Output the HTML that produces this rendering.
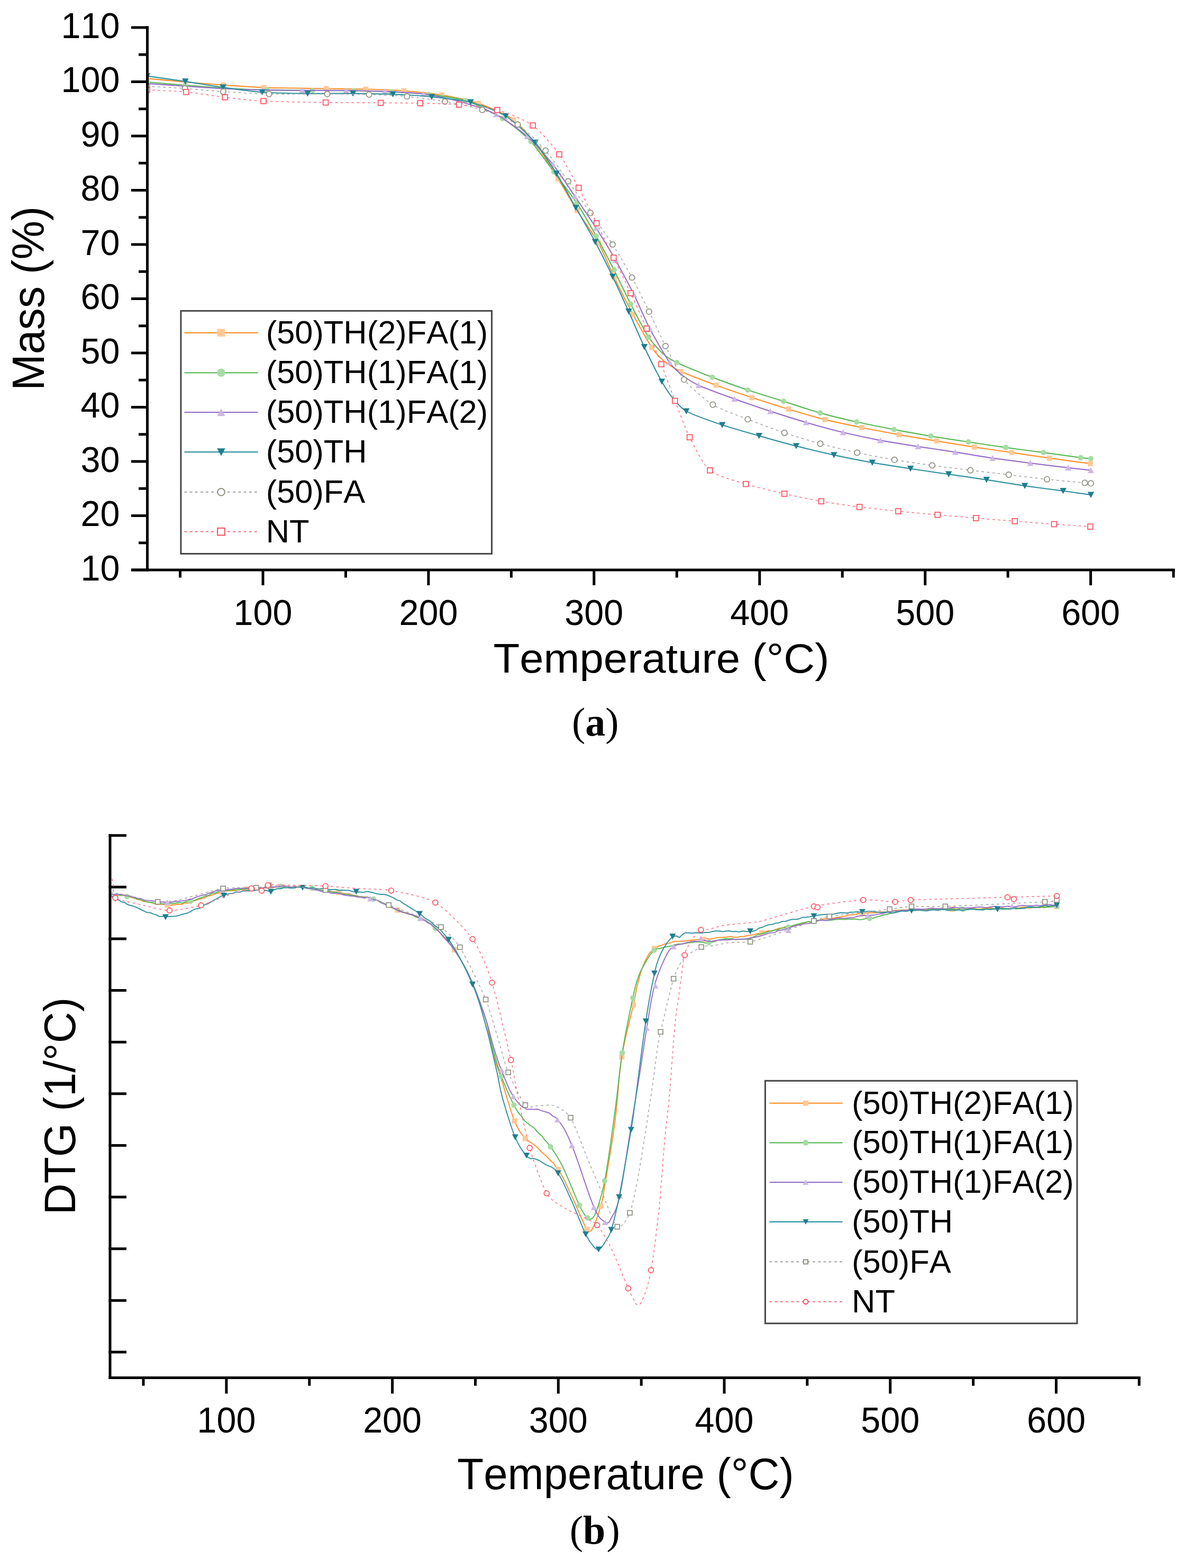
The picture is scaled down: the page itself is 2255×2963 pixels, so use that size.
<!DOCTYPE html>
<html><head><meta charset="utf-8"><title>TGA / DTG</title>
<style>html,body{margin:0;padding:0;background:#fff;}svg{display:block;}text{font-kerning:none;font-feature-settings:"kern" 0;}</style>
</head><body>
<svg width="2255" height="2963" viewBox="0 0 2255 2963">
<rect width="2255" height="2963" fill="#fff"/>
<g stroke="#000" stroke-width="5" fill="none" stroke-linecap="butt">
<path d="M278.5 49.5 V1079.5"/>
<path d="M248.0 1077.0 H2220.6"/>
<path d="M248 1077.0 H281"/>
<path d="M248 974.5 H281"/>
<path d="M248 872.0 H281"/>
<path d="M248 769.5 H281"/>
<path d="M248 667.0 H281"/>
<path d="M248 564.5 H281"/>
<path d="M248 462.0 H281"/>
<path d="M248 359.5 H281"/>
<path d="M248 257.0 H281"/>
<path d="M248 154.5 H281"/>
<path d="M248 52.0 H281"/>
<path d="M262 1025.8 H281"/>
<path d="M262 923.2 H281"/>
<path d="M262 820.8 H281"/>
<path d="M262 718.2 H281"/>
<path d="M262 615.8 H281"/>
<path d="M262 513.2 H281"/>
<path d="M262 410.8 H281"/>
<path d="M262 308.2 H281"/>
<path d="M262 205.8 H281"/>
<path d="M262 103.2 H281"/>
<path d="M497.0 1075 V1106"/>
<path d="M809.9 1075 V1106"/>
<path d="M1122.8 1075 V1106"/>
<path d="M1435.8 1075 V1106"/>
<path d="M1748.7 1075 V1106"/>
<path d="M2061.6 1075 V1106"/>
<path d="M340.5 1075 V1091.5"/>
<path d="M653.5 1075 V1091.5"/>
<path d="M966.4 1075 V1091.5"/>
<path d="M1279.3 1075 V1091.5"/>
<path d="M1592.2 1075 V1091.5"/>
<path d="M1905.1 1075 V1091.5"/>
<path d="M2218.1 1075 V1091.5"/>
</g>
<g font-family="'Liberation Sans', Arial, sans-serif" font-size="66.5" fill="#000">
<text transform="translate(226.4 1096.9) scale(1 1.035)" text-anchor="end">10</text>
<text transform="translate(226.4 994.4) scale(1 1.035)" text-anchor="end">20</text>
<text transform="translate(226.4 891.9) scale(1 1.035)" text-anchor="end">30</text>
<text transform="translate(226.4 789.4) scale(1 1.035)" text-anchor="end">40</text>
<text transform="translate(226.4 686.9) scale(1 1.035)" text-anchor="end">50</text>
<text transform="translate(226.4 584.4) scale(1 1.035)" text-anchor="end">60</text>
<text transform="translate(226.4 481.9) scale(1 1.035)" text-anchor="end">70</text>
<text transform="translate(226.4 379.4) scale(1 1.035)" text-anchor="end">80</text>
<text transform="translate(226.4 276.9) scale(1 1.035)" text-anchor="end">90</text>
<text transform="translate(226.4 174.4) scale(1 1.035)" text-anchor="end">100</text>
<text transform="translate(226.4 71.9) scale(1 1.035)" text-anchor="end">110</text>
<text transform="translate(497.0 1180.5) scale(1 1.035)" text-anchor="middle">100</text>
<text transform="translate(809.9 1180.5) scale(1 1.035)" text-anchor="middle">200</text>
<text transform="translate(1122.8 1180.5) scale(1 1.035)" text-anchor="middle">300</text>
<text transform="translate(1435.8 1180.5) scale(1 1.035)" text-anchor="middle">400</text>
<text transform="translate(1748.7 1180.5) scale(1 1.035)" text-anchor="middle">500</text>
<text transform="translate(2061.6 1180.5) scale(1 1.035)" text-anchor="middle">600</text>
</g>
<text transform="translate(932.5 1271) scale(1 0.965)" font-family="'Liberation Sans', Arial, sans-serif" font-size="81.5" fill="#000">Temperature (°C)</text>
<text transform="translate(82.5 738) rotate(-90) scale(1 1.025)" font-family="'Liberation Sans', Arial, sans-serif" font-size="82.5" fill="#000">Mass (%)</text>
<text x="1080.9" y="1390" font-family="'Liberation Serif', 'Times New Roman', serif" font-size="76" fill="#000">(<tspan font-weight="bold">a</tspan>)</text>
<svg x="0" y="0" width="2255" height="2963" overflow="hidden"><defs><clipPath id="ca"><rect x="281" y="0" width="1950" height="1074"/></clipPath></defs>
<g clip-path="url(#ca)">
<path d="M278.0 148.3 C287.0 149.1 332.0 153.4 350.0 155.0 C368.0 156.6 403.4 159.4 422.0 160.7 C440.6 162.0 481.8 164.8 498.7 165.5 C515.6 166.2 542.2 166.2 557.0 166.5 C571.8 166.8 600.0 167.2 616.8 167.5 C633.6 167.8 673.2 168.0 691.5 168.5 C709.8 169.0 745.3 170.1 763.3 171.5 C781.3 172.9 817.6 176.6 835.2 179.6 C852.8 182.6 887.3 189.6 904.2 195.4 C921.1 201.2 956.4 215.5 970.7 226.2 C985.0 236.9 1008.2 266.9 1018.8 280.9 C1029.3 294.9 1046.0 323.4 1055.0 338.0 C1064.0 352.6 1081.5 382.8 1091.0 398.0 C1100.5 413.2 1122.4 443.4 1131.2 459.3 C1140.1 475.2 1153.5 508.5 1161.6 525.4 C1169.7 542.2 1187.6 577.7 1196.4 594.1 C1205.2 610.5 1224.6 645.5 1232.1 656.6 C1239.5 667.7 1249.1 677.3 1256.0 683.0 C1262.9 688.7 1275.3 696.5 1287.5 702.1 C1299.7 707.7 1336.9 721.9 1353.6 728.0 C1370.3 734.1 1404.3 745.6 1421.4 751.2 C1438.5 756.9 1473.4 768.0 1490.7 773.2 C1508.0 778.4 1542.2 788.5 1559.5 792.9 C1576.8 797.2 1611.6 804.4 1629.1 808.0 C1646.6 811.6 1682.0 818.2 1699.6 821.4 C1717.2 824.6 1752.4 830.4 1770.2 833.3 C1788.0 836.2 1824.1 842.1 1841.9 844.8 C1859.7 847.5 1894.7 852.6 1912.4 855.2 C1930.1 857.8 1965.2 863.1 1983.8 865.7 C2002.4 868.3 2051.3 874.9 2061.0 876.2" fill="none" stroke="#FF922E" stroke-width="2.2" stroke-linejoin="round"/>
<rect x="273.1" y="143.4" width="9.8" height="9.8" fill="#FFC998"/>
<rect x="417.1" y="155.8" width="9.8" height="9.8" fill="#FFC998"/>
<rect x="493.8" y="160.6" width="9.8" height="9.8" fill="#FFC998"/>
<rect x="611.9" y="162.6" width="9.8" height="9.8" fill="#FFC998"/>
<rect x="686.6" y="163.6" width="9.8" height="9.8" fill="#FFC998"/>
<rect x="758.4" y="166.6" width="9.8" height="9.8" fill="#FFC998"/>
<rect x="830.3" y="174.7" width="9.8" height="9.8" fill="#FFC998"/>
<rect x="899.3" y="190.5" width="9.8" height="9.8" fill="#FFC998"/>
<rect x="965.8" y="221.3" width="9.8" height="9.8" fill="#FFC998"/>
<rect x="1013.9" y="276.0" width="9.8" height="9.8" fill="#FFC998"/>
<rect x="1050.1" y="333.1" width="9.8" height="9.8" fill="#FFC998"/>
<rect x="1086.1" y="393.1" width="9.8" height="9.8" fill="#FFC998"/>
<rect x="1126.3" y="454.4" width="9.8" height="9.8" fill="#FFC998"/>
<rect x="1156.7" y="520.5" width="9.8" height="9.8" fill="#FFC998"/>
<rect x="1191.5" y="589.2" width="9.8" height="9.8" fill="#FFC998"/>
<rect x="1227.2" y="651.7" width="9.8" height="9.8" fill="#FFC998"/>
<rect x="1282.6" y="697.2" width="9.8" height="9.8" fill="#FFC998"/>
<rect x="1348.7" y="723.1" width="9.8" height="9.8" fill="#FFC998"/>
<rect x="1416.5" y="746.4" width="9.8" height="9.8" fill="#FFC998"/>
<rect x="1485.8" y="768.3" width="9.8" height="9.8" fill="#FFC998"/>
<rect x="1554.6" y="788.0" width="9.8" height="9.8" fill="#FFC998"/>
<rect x="1624.2" y="803.1" width="9.8" height="9.8" fill="#FFC998"/>
<rect x="1694.7" y="816.5" width="9.8" height="9.8" fill="#FFC998"/>
<rect x="1765.3" y="828.4" width="9.8" height="9.8" fill="#FFC998"/>
<rect x="1837.0" y="839.9" width="9.8" height="9.8" fill="#FFC998"/>
<rect x="1907.5" y="850.3" width="9.8" height="9.8" fill="#FFC998"/>
<rect x="1978.9" y="860.8" width="9.8" height="9.8" fill="#FFC998"/>
<rect x="2056.1" y="871.3" width="9.8" height="9.8" fill="#FFC998"/>
<path d="M278.0 155.0 C287.0 155.8 332.0 159.6 350.0 161.0 C368.0 162.4 402.6 165.4 422.0 166.5 C441.4 167.6 483.9 169.4 505.0 170.0 C526.1 170.6 570.0 170.8 590.5 171.0 C611.0 171.2 650.0 171.2 668.6 171.5 C687.2 171.8 721.3 172.6 739.0 173.5 C756.7 174.4 792.4 176.4 810.0 178.5 C827.6 180.6 862.5 184.3 880.0 190.0 C897.5 195.7 934.5 214.1 950.0 223.8 C965.5 233.4 991.5 254.8 1003.6 267.5 C1015.7 280.2 1036.2 310.5 1047.0 325.0 C1057.8 339.5 1080.2 368.5 1090.2 383.6 C1100.2 398.7 1118.0 430.2 1126.8 446.0 C1135.6 461.8 1152.5 494.1 1160.7 510.2 C1168.9 526.3 1183.8 558.6 1192.0 574.5 C1200.2 590.4 1218.0 625.1 1225.9 637.0 C1233.8 648.9 1248.3 664.0 1255.0 670.0 C1261.7 676.0 1268.1 679.8 1279.5 685.2 C1290.9 690.6 1329.7 706.4 1346.4 712.9 C1363.1 719.4 1396.5 731.3 1413.4 737.0 C1430.3 742.7 1464.1 753.0 1481.2 758.4 C1498.4 763.8 1533.2 775.5 1550.5 780.4 C1567.8 785.3 1601.9 793.4 1619.3 797.3 C1636.7 801.2 1672.3 808.2 1689.8 811.6 C1707.3 815.0 1741.9 821.1 1759.5 824.1 C1777.1 827.1 1812.8 832.5 1830.5 835.2 C1848.2 837.9 1883.3 843.2 1901.0 845.7 C1918.7 848.2 1954.7 852.8 1972.4 855.2 C1990.1 857.6 2031.7 863.4 2042.9 864.8 C2054.1 866.2 2059.5 866.5 2061.9 866.7" fill="none" stroke="#5BBA58" stroke-width="2.2" stroke-linejoin="round"/>
<circle cx="278.0" cy="155.0" r="5.1" fill="#A6DCA3"/>
<circle cx="350.0" cy="161.0" r="5.1" fill="#A6DCA3"/>
<circle cx="422.0" cy="166.5" r="5.1" fill="#A6DCA3"/>
<circle cx="505.0" cy="170.0" r="5.1" fill="#A6DCA3"/>
<circle cx="590.5" cy="171.0" r="5.1" fill="#A6DCA3"/>
<circle cx="668.6" cy="171.5" r="5.1" fill="#A6DCA3"/>
<circle cx="739.0" cy="173.5" r="5.1" fill="#A6DCA3"/>
<circle cx="810.0" cy="178.5" r="5.1" fill="#A6DCA3"/>
<circle cx="880.0" cy="190.0" r="5.1" fill="#A6DCA3"/>
<circle cx="950.0" cy="223.8" r="5.1" fill="#A6DCA3"/>
<circle cx="1003.6" cy="267.5" r="5.1" fill="#A6DCA3"/>
<circle cx="1047.0" cy="325.0" r="5.1" fill="#A6DCA3"/>
<circle cx="1090.2" cy="383.6" r="5.1" fill="#A6DCA3"/>
<circle cx="1126.8" cy="446.0" r="5.1" fill="#A6DCA3"/>
<circle cx="1160.7" cy="510.2" r="5.1" fill="#A6DCA3"/>
<circle cx="1192.0" cy="574.5" r="5.1" fill="#A6DCA3"/>
<circle cx="1225.9" cy="637.0" r="5.1" fill="#A6DCA3"/>
<circle cx="1279.5" cy="685.2" r="5.1" fill="#A6DCA3"/>
<circle cx="1346.4" cy="712.9" r="5.1" fill="#A6DCA3"/>
<circle cx="1413.4" cy="737.0" r="5.1" fill="#A6DCA3"/>
<circle cx="1481.2" cy="758.4" r="5.1" fill="#A6DCA3"/>
<circle cx="1550.5" cy="780.4" r="5.1" fill="#A6DCA3"/>
<circle cx="1619.3" cy="797.3" r="5.1" fill="#A6DCA3"/>
<circle cx="1689.8" cy="811.6" r="5.1" fill="#A6DCA3"/>
<circle cx="1759.5" cy="824.1" r="5.1" fill="#A6DCA3"/>
<circle cx="1830.5" cy="835.2" r="5.1" fill="#A6DCA3"/>
<circle cx="1901.0" cy="845.7" r="5.1" fill="#A6DCA3"/>
<circle cx="1972.4" cy="855.2" r="5.1" fill="#A6DCA3"/>
<circle cx="2042.9" cy="864.8" r="5.1" fill="#A6DCA3"/>
<circle cx="2061.9" cy="866.7" r="5.1" fill="#A6DCA3"/>
<path d="M278.0 158.0 C287.0 158.6 332.0 161.8 350.0 163.0 C368.0 164.2 403.6 166.6 422.0 167.5 C440.4 168.4 478.3 169.6 497.0 170.0 C515.7 170.4 551.7 170.7 571.4 170.8 C591.1 170.9 634.8 170.8 654.3 171.0 C673.8 171.2 709.4 172.0 727.6 172.8 C745.8 173.6 782.4 175.1 800.2 177.5 C818.0 179.9 852.8 187.2 870.0 192.0 C887.2 196.8 921.9 208.0 937.7 216.2 C953.5 224.4 982.9 245.8 996.4 257.7 C1009.9 269.6 1034.2 297.1 1045.5 311.2 C1056.8 325.4 1076.4 356.0 1086.6 371.0 C1096.8 386.0 1117.2 415.8 1126.8 430.9 C1136.4 445.9 1154.5 475.7 1163.4 491.4 C1172.3 507.1 1190.1 540.3 1198.2 556.6 C1206.3 572.9 1220.2 605.8 1228.6 621.8 C1237.0 637.8 1257.9 673.6 1265.2 684.3 C1272.5 694.9 1280.1 701.5 1287.0 707.0 C1293.9 712.5 1307.8 722.1 1320.5 728.0 C1333.2 733.9 1371.4 747.8 1388.4 753.9 C1405.4 760.0 1439.3 771.6 1456.2 777.1 C1473.2 782.6 1506.6 793.2 1523.8 798.2 C1540.9 803.2 1575.9 812.8 1593.4 817.0 C1610.9 821.2 1646.2 828.8 1663.9 832.1 C1681.7 835.4 1717.7 841.0 1735.4 843.8 C1753.1 846.5 1788.1 851.6 1805.7 854.3 C1823.3 857.0 1858.5 863.1 1876.2 865.7 C1893.9 868.3 1929.8 872.9 1947.6 875.2 C1965.4 877.5 2004.7 882.1 2019.0 883.8 C2033.3 885.5 2056.5 888.0 2061.9 888.6" fill="none" stroke="#9A70C8" stroke-width="2.2" stroke-linejoin="round"/>
<path d="M278.0 152.3L284.0 163.4L272.0 163.4Z" fill="#CDB8E6"/>
<path d="M350.0 157.3L356.0 168.4L344.0 168.4Z" fill="#CDB8E6"/>
<path d="M422.0 161.8L428.0 172.9L416.0 172.9Z" fill="#CDB8E6"/>
<path d="M497.0 164.3L503.0 175.4L491.0 175.4Z" fill="#CDB8E6"/>
<path d="M571.4 165.1L577.4 176.2L565.4 176.2Z" fill="#CDB8E6"/>
<path d="M654.3 165.3L660.3 176.4L648.3 176.4Z" fill="#CDB8E6"/>
<path d="M727.6 167.1L733.6 178.2L721.6 178.2Z" fill="#CDB8E6"/>
<path d="M800.2 171.8L806.2 182.9L794.2 182.9Z" fill="#CDB8E6"/>
<path d="M870.0 186.3L876.0 197.4L864.0 197.4Z" fill="#CDB8E6"/>
<path d="M937.7 210.5L943.7 221.6L931.7 221.6Z" fill="#CDB8E6"/>
<path d="M996.4 252.0L1002.4 263.1L990.4 263.1Z" fill="#CDB8E6"/>
<path d="M1045.5 305.6L1051.5 316.6L1039.5 316.6Z" fill="#CDB8E6"/>
<path d="M1086.6 365.3L1092.6 376.4L1080.6 376.4Z" fill="#CDB8E6"/>
<path d="M1126.8 425.2L1132.8 436.3L1120.8 436.3Z" fill="#CDB8E6"/>
<path d="M1163.4 485.7L1169.4 496.8L1157.4 496.8Z" fill="#CDB8E6"/>
<path d="M1198.2 550.9L1204.2 562.0L1192.2 562.0Z" fill="#CDB8E6"/>
<path d="M1228.6 616.1L1234.6 627.2L1222.6 627.2Z" fill="#CDB8E6"/>
<path d="M1265.2 678.6L1271.2 689.7L1259.2 689.7Z" fill="#CDB8E6"/>
<path d="M1320.5 722.3L1326.5 733.4L1314.5 733.4Z" fill="#CDB8E6"/>
<path d="M1388.4 748.2L1394.4 759.3L1382.4 759.3Z" fill="#CDB8E6"/>
<path d="M1456.2 771.4L1462.2 782.5L1450.2 782.5Z" fill="#CDB8E6"/>
<path d="M1523.8 792.5L1529.8 803.6L1517.8 803.6Z" fill="#CDB8E6"/>
<path d="M1593.4 811.3L1599.4 822.4L1587.4 822.4Z" fill="#CDB8E6"/>
<path d="M1663.9 826.4L1669.9 837.5L1657.9 837.5Z" fill="#CDB8E6"/>
<path d="M1735.4 838.0L1741.4 849.1L1729.4 849.1Z" fill="#CDB8E6"/>
<path d="M1805.7 848.6L1811.7 859.7L1799.7 859.7Z" fill="#CDB8E6"/>
<path d="M1876.2 860.0L1882.2 871.1L1870.2 871.1Z" fill="#CDB8E6"/>
<path d="M1947.6 869.5L1953.6 880.6L1941.6 880.6Z" fill="#CDB8E6"/>
<path d="M2019.0 878.1L2025.0 889.2L2013.0 889.2Z" fill="#CDB8E6"/>
<path d="M2061.9 882.9L2067.9 894.0L2055.9 894.0Z" fill="#CDB8E6"/>
<path d="M278.0 143.8 C287.0 145.1 332.4 151.2 350.3 153.9 C368.2 156.6 403.3 162.6 421.5 165.2 C439.7 167.8 475.7 172.9 495.7 174.3 C515.7 175.8 560.1 176.5 581.5 176.8 C602.9 177.1 647.0 176.4 667.1 176.6 C687.2 176.8 724.1 177.3 742.7 178.1 C761.3 178.9 797.6 181.1 816.0 183.0 C834.4 184.9 872.0 188.6 889.5 193.2 C907.0 197.8 940.7 209.9 956.0 219.4 C971.3 228.9 999.6 255.7 1011.6 269.3 C1023.6 282.9 1042.2 312.8 1051.8 328.2 C1061.4 343.6 1079.2 376.4 1088.4 392.5 C1097.6 408.6 1116.3 440.7 1125.0 457.0 C1133.7 473.3 1150.1 506.2 1158.0 522.7 C1165.9 539.2 1180.9 572.1 1188.4 588.8 C1195.9 605.4 1210.1 639.2 1217.9 655.7 C1225.7 672.2 1244.2 709.0 1250.9 721.0 C1257.6 733.0 1265.7 745.0 1271.5 752.0 C1277.3 759.0 1285.6 770.7 1297.3 777.1 C1309.0 783.5 1348.0 797.2 1365.2 803.0 C1382.4 808.8 1417.3 818.6 1434.8 823.6 C1452.3 828.6 1487.3 838.4 1505.0 842.9 C1522.7 847.4 1558.4 855.9 1576.4 859.8 C1594.4 863.7 1630.7 870.9 1648.8 874.1 C1666.8 877.3 1702.9 882.9 1721.0 885.7 C1739.1 888.5 1775.3 893.6 1793.3 896.2 C1811.3 898.8 1846.8 904.0 1864.8 906.7 C1882.8 909.4 1919.0 915.5 1937.1 918.1 C1955.2 920.7 1993.9 925.5 2009.5 927.6 C2025.1 929.7 2055.3 934.2 2061.9 935.2" fill="none" stroke="#3593A2" stroke-width="2.2" stroke-linejoin="round"/>
<path d="M271.8 138.2L284.2 138.2L278.0 149.7Z" fill="#1F7E8F"/>
<path d="M344.1 148.3L356.6 148.3L350.3 159.8Z" fill="#1F7E8F"/>
<path d="M415.2 159.6L427.8 159.6L421.5 171.1Z" fill="#1F7E8F"/>
<path d="M489.4 168.7L501.9 168.7L495.7 180.2Z" fill="#1F7E8F"/>
<path d="M575.2 171.2L587.8 171.2L581.5 182.7Z" fill="#1F7E8F"/>
<path d="M660.9 171.0L673.4 171.0L667.1 182.5Z" fill="#1F7E8F"/>
<path d="M736.5 172.5L749.0 172.5L742.7 184.0Z" fill="#1F7E8F"/>
<path d="M809.8 177.4L822.2 177.4L816.0 188.9Z" fill="#1F7E8F"/>
<path d="M883.2 187.6L895.8 187.6L889.5 199.1Z" fill="#1F7E8F"/>
<path d="M949.8 213.8L962.2 213.8L956.0 225.3Z" fill="#1F7E8F"/>
<path d="M1005.4 263.7L1017.9 263.7L1011.6 275.2Z" fill="#1F7E8F"/>
<path d="M1045.5 322.6L1058.0 322.6L1051.8 334.1Z" fill="#1F7E8F"/>
<path d="M1082.2 386.9L1094.7 386.9L1088.4 398.4Z" fill="#1F7E8F"/>
<path d="M1118.8 451.4L1131.2 451.4L1125.0 462.9Z" fill="#1F7E8F"/>
<path d="M1151.8 517.1L1164.2 517.1L1158.0 528.6Z" fill="#1F7E8F"/>
<path d="M1182.2 583.1L1194.7 583.1L1188.4 594.7Z" fill="#1F7E8F"/>
<path d="M1211.7 650.1L1224.2 650.1L1217.9 661.6Z" fill="#1F7E8F"/>
<path d="M1244.7 715.4L1257.2 715.4L1250.9 726.9Z" fill="#1F7E8F"/>
<path d="M1291.0 771.5L1303.5 771.5L1297.3 783.0Z" fill="#1F7E8F"/>
<path d="M1359.0 797.4L1371.5 797.4L1365.2 808.9Z" fill="#1F7E8F"/>
<path d="M1428.5 818.0L1441.0 818.0L1434.8 829.5Z" fill="#1F7E8F"/>
<path d="M1498.8 837.3L1511.2 837.3L1505.0 848.8Z" fill="#1F7E8F"/>
<path d="M1570.2 854.2L1582.7 854.2L1576.4 865.7Z" fill="#1F7E8F"/>
<path d="M1642.5 868.5L1655.0 868.5L1648.8 880.0Z" fill="#1F7E8F"/>
<path d="M1714.8 880.1L1727.2 880.1L1721.0 891.6Z" fill="#1F7E8F"/>
<path d="M1787.0 890.6L1799.5 890.6L1793.3 902.1Z" fill="#1F7E8F"/>
<path d="M1858.5 901.1L1871.0 901.1L1864.8 912.6Z" fill="#1F7E8F"/>
<path d="M1930.8 912.5L1943.3 912.5L1937.1 924.0Z" fill="#1F7E8F"/>
<path d="M2003.2 922.0L2015.8 922.0L2009.5 933.5Z" fill="#1F7E8F"/>
<path d="M2055.7 929.6L2068.2 929.6L2061.9 941.1Z" fill="#1F7E8F"/>
<path d="M278.0 163.0 C286.9 163.5 331.6 165.7 349.6 167.0 C367.6 168.3 402.1 171.9 422.0 173.2 C441.9 174.5 484.0 177.0 508.6 177.6 C533.2 178.2 595.0 177.5 618.6 177.6 C642.2 177.7 678.9 178.1 697.7 178.7 C716.5 179.3 751.4 180.6 769.3 182.3 C787.2 184.0 823.1 188.8 840.9 192.0 C858.7 195.2 894.4 202.3 911.6 207.7 C928.8 213.1 963.6 225.8 978.6 235.4 C993.6 245.0 1019.3 271.1 1031.2 284.5 C1043.2 297.9 1063.5 327.8 1074.1 342.5 C1084.7 357.2 1105.5 387.4 1116.0 402.3 C1126.5 417.2 1148.2 446.7 1158.0 462.0 C1167.8 477.3 1186.0 508.7 1194.6 524.5 C1203.2 540.3 1218.9 572.6 1226.8 588.8 C1234.7 604.9 1249.7 637.8 1258.0 653.9 C1266.3 670.0 1281.7 703.5 1292.9 717.3 C1304.1 731.1 1332.2 755.2 1347.3 764.6 C1362.4 774.0 1396.5 785.6 1413.4 792.3 C1430.3 799.0 1465.6 812.1 1482.7 817.9 C1499.8 823.7 1533.3 833.7 1550.5 838.4 C1567.7 843.1 1602.7 851.6 1620.2 855.4 C1637.7 859.2 1673.0 865.7 1690.7 868.8 C1708.4 871.8 1744.1 877.0 1762.1 879.5 C1780.0 882.0 1816.2 886.4 1834.3 888.6 C1852.4 890.8 1888.6 895.0 1906.7 897.1 C1924.8 899.2 1961.0 903.8 1979.0 905.7 C1997.0 907.6 2040.1 911.5 2050.5 912.4 C2060.9 913.3 2060.5 913.2 2061.9 913.3" fill="none" stroke="#A6A6A6" stroke-width="1.6" stroke-dasharray="4.6 5.6" stroke-linejoin="round"/>
<circle cx="278.0" cy="163.0" r="5.2" fill="#fff" stroke="#8C9180" stroke-width="1.7"/>
<circle cx="349.6" cy="167.0" r="5.2" fill="#fff" stroke="#8C9180" stroke-width="1.7"/>
<circle cx="422.0" cy="173.2" r="5.2" fill="#fff" stroke="#8C9180" stroke-width="1.7"/>
<circle cx="508.6" cy="177.6" r="5.2" fill="#fff" stroke="#8C9180" stroke-width="1.7"/>
<circle cx="618.6" cy="177.6" r="5.2" fill="#fff" stroke="#8C9180" stroke-width="1.7"/>
<circle cx="697.7" cy="178.7" r="5.2" fill="#fff" stroke="#8C9180" stroke-width="1.7"/>
<circle cx="769.3" cy="182.3" r="5.2" fill="#fff" stroke="#8C9180" stroke-width="1.7"/>
<circle cx="840.9" cy="192.0" r="5.2" fill="#fff" stroke="#8C9180" stroke-width="1.7"/>
<circle cx="911.6" cy="207.7" r="5.2" fill="#fff" stroke="#8C9180" stroke-width="1.7"/>
<circle cx="978.6" cy="235.4" r="5.2" fill="#fff" stroke="#8C9180" stroke-width="1.7"/>
<circle cx="1031.2" cy="284.5" r="5.2" fill="#fff" stroke="#8C9180" stroke-width="1.7"/>
<circle cx="1074.1" cy="342.5" r="5.2" fill="#fff" stroke="#8C9180" stroke-width="1.7"/>
<circle cx="1116.0" cy="402.3" r="5.2" fill="#fff" stroke="#8C9180" stroke-width="1.7"/>
<circle cx="1158.0" cy="462.0" r="5.2" fill="#fff" stroke="#8C9180" stroke-width="1.7"/>
<circle cx="1194.6" cy="524.5" r="5.2" fill="#fff" stroke="#8C9180" stroke-width="1.7"/>
<circle cx="1226.8" cy="588.8" r="5.2" fill="#fff" stroke="#8C9180" stroke-width="1.7"/>
<circle cx="1258.0" cy="653.9" r="5.2" fill="#fff" stroke="#8C9180" stroke-width="1.7"/>
<circle cx="1292.9" cy="717.3" r="5.2" fill="#fff" stroke="#8C9180" stroke-width="1.7"/>
<circle cx="1347.3" cy="764.6" r="5.2" fill="#fff" stroke="#8C9180" stroke-width="1.7"/>
<circle cx="1413.4" cy="792.3" r="5.2" fill="#fff" stroke="#8C9180" stroke-width="1.7"/>
<circle cx="1482.7" cy="817.9" r="5.2" fill="#fff" stroke="#8C9180" stroke-width="1.7"/>
<circle cx="1550.5" cy="838.4" r="5.2" fill="#fff" stroke="#8C9180" stroke-width="1.7"/>
<circle cx="1620.2" cy="855.4" r="5.2" fill="#fff" stroke="#8C9180" stroke-width="1.7"/>
<circle cx="1690.7" cy="868.8" r="5.2" fill="#fff" stroke="#8C9180" stroke-width="1.7"/>
<circle cx="1762.1" cy="879.5" r="5.2" fill="#fff" stroke="#8C9180" stroke-width="1.7"/>
<circle cx="1834.3" cy="888.6" r="5.2" fill="#fff" stroke="#8C9180" stroke-width="1.7"/>
<circle cx="1906.7" cy="897.1" r="5.2" fill="#fff" stroke="#8C9180" stroke-width="1.7"/>
<circle cx="1979.0" cy="905.7" r="5.2" fill="#fff" stroke="#8C9180" stroke-width="1.7"/>
<circle cx="2050.5" cy="912.4" r="5.2" fill="#fff" stroke="#8C9180" stroke-width="1.7"/>
<circle cx="2061.9" cy="913.3" r="5.2" fill="#fff" stroke="#8C9180" stroke-width="1.7"/>
<path d="M278.0 169.8 C287.2 170.3 333.5 172.1 351.9 173.8 C370.3 175.6 406.7 181.7 425.0 183.8 C443.3 186.0 474.3 189.8 498.1 191.0 C521.9 192.2 587.9 193.3 615.6 193.7 C643.3 194.1 697.3 194.1 719.6 194.3 C741.9 194.5 775.8 194.6 794.3 195.0 C812.8 195.4 849.4 196.1 867.6 197.7 C885.8 199.3 922.4 202.9 939.8 207.8 C957.2 212.7 992.4 226.6 1007.1 237.1 C1021.8 247.6 1046.3 276.9 1057.1 291.6 C1067.9 306.3 1084.9 338.7 1093.8 355.0 C1102.6 371.3 1119.4 405.3 1127.7 421.8 C1136.0 438.3 1151.8 470.5 1159.8 487.0 C1167.8 503.5 1184.2 537.2 1192.0 553.9 C1199.8 570.6 1215.0 604.1 1222.3 620.9 C1229.5 637.7 1243.3 671.2 1250.0 688.3 C1256.7 705.4 1269.2 740.3 1275.9 757.5 C1282.6 774.7 1295.3 809.8 1303.6 826.2 C1311.9 842.7 1328.7 877.7 1342.0 888.8 C1355.3 899.8 1392.2 909.1 1409.8 914.6 C1427.4 920.1 1464.9 928.9 1482.7 933.0 C1500.5 937.1 1534.6 944.2 1552.3 947.3 C1570.0 950.4 1606.4 955.7 1624.6 958.0 C1642.8 960.3 1679.5 964.1 1697.9 966.0 C1716.4 967.9 1753.8 971.2 1772.2 972.8 C1790.6 974.4 1826.6 977.5 1844.8 979.0 C1863.0 980.5 1899.6 983.4 1918.1 984.8 C1936.5 986.2 1974.5 989.2 1992.4 990.5 C2010.3 991.8 2052.4 994.6 2061.0 995.2" fill="none" stroke="#FF7483" stroke-width="1.6" stroke-dasharray="4.6 5.6" stroke-linejoin="round"/>
<rect x="273.1" y="164.9" width="9.8" height="9.8" fill="#fff" stroke="#FF4E5C" stroke-width="1.7"/>
<rect x="347.0" y="168.9" width="9.8" height="9.8" fill="#fff" stroke="#FF4E5C" stroke-width="1.7"/>
<rect x="420.1" y="178.9" width="9.8" height="9.8" fill="#fff" stroke="#FF4E5C" stroke-width="1.7"/>
<rect x="493.2" y="186.1" width="9.8" height="9.8" fill="#fff" stroke="#FF4E5C" stroke-width="1.7"/>
<rect x="610.7" y="188.8" width="9.8" height="9.8" fill="#fff" stroke="#FF4E5C" stroke-width="1.7"/>
<rect x="714.7" y="189.4" width="9.8" height="9.8" fill="#fff" stroke="#FF4E5C" stroke-width="1.7"/>
<rect x="789.4" y="190.1" width="9.8" height="9.8" fill="#fff" stroke="#FF4E5C" stroke-width="1.7"/>
<rect x="862.7" y="192.8" width="9.8" height="9.8" fill="#fff" stroke="#FF4E5C" stroke-width="1.7"/>
<rect x="934.9" y="202.9" width="9.8" height="9.8" fill="#fff" stroke="#FF4E5C" stroke-width="1.7"/>
<rect x="1002.2" y="232.2" width="9.8" height="9.8" fill="#fff" stroke="#FF4E5C" stroke-width="1.7"/>
<rect x="1052.2" y="286.7" width="9.8" height="9.8" fill="#fff" stroke="#FF4E5C" stroke-width="1.7"/>
<rect x="1088.8" y="350.1" width="9.8" height="9.8" fill="#fff" stroke="#FF4E5C" stroke-width="1.7"/>
<rect x="1122.8" y="416.9" width="9.8" height="9.8" fill="#fff" stroke="#FF4E5C" stroke-width="1.7"/>
<rect x="1154.9" y="482.1" width="9.8" height="9.8" fill="#fff" stroke="#FF4E5C" stroke-width="1.7"/>
<rect x="1187.1" y="549.0" width="9.8" height="9.8" fill="#fff" stroke="#FF4E5C" stroke-width="1.7"/>
<rect x="1217.4" y="616.0" width="9.8" height="9.8" fill="#fff" stroke="#FF4E5C" stroke-width="1.7"/>
<rect x="1245.1" y="683.4" width="9.8" height="9.8" fill="#fff" stroke="#FF4E5C" stroke-width="1.7"/>
<rect x="1271.0" y="752.6" width="9.8" height="9.8" fill="#fff" stroke="#FF4E5C" stroke-width="1.7"/>
<rect x="1298.7" y="821.4" width="9.8" height="9.8" fill="#fff" stroke="#FF4E5C" stroke-width="1.7"/>
<rect x="1337.1" y="883.9" width="9.8" height="9.8" fill="#fff" stroke="#FF4E5C" stroke-width="1.7"/>
<rect x="1404.9" y="909.7" width="9.8" height="9.8" fill="#fff" stroke="#FF4E5C" stroke-width="1.7"/>
<rect x="1477.8" y="928.1" width="9.8" height="9.8" fill="#fff" stroke="#FF4E5C" stroke-width="1.7"/>
<rect x="1547.4" y="942.4" width="9.8" height="9.8" fill="#fff" stroke="#FF4E5C" stroke-width="1.7"/>
<rect x="1619.7" y="953.1" width="9.8" height="9.8" fill="#fff" stroke="#FF4E5C" stroke-width="1.7"/>
<rect x="1693.0" y="961.1" width="9.8" height="9.8" fill="#fff" stroke="#FF4E5C" stroke-width="1.7"/>
<rect x="1767.3" y="967.9" width="9.8" height="9.8" fill="#fff" stroke="#FF4E5C" stroke-width="1.7"/>
<rect x="1839.9" y="974.1" width="9.8" height="9.8" fill="#fff" stroke="#FF4E5C" stroke-width="1.7"/>
<rect x="1913.2" y="979.9" width="9.8" height="9.8" fill="#fff" stroke="#FF4E5C" stroke-width="1.7"/>
<rect x="1987.5" y="985.6" width="9.8" height="9.8" fill="#fff" stroke="#FF4E5C" stroke-width="1.7"/>
<rect x="2056.1" y="990.3" width="9.8" height="9.8" fill="#fff" stroke="#FF4E5C" stroke-width="1.7"/>
</g></svg>
<rect x="341.9" y="587.4" width="587.6" height="459.0" fill="#fff" stroke="#474747" stroke-width="3"/>
<path d="M348.5 628.8 H487.5" stroke="#FF922E" stroke-width="2.2"/>
<rect x="410.8" y="621.5" width="14.5" height="14.5" fill="#FFC998"/>
<text x="502.7" y="648.9" font-family="'Liberation Sans', Arial, sans-serif" font-size="61.4" fill="#000">(50)TH(2)FA(1)</text>
<path d="M348.5 704.3 H487.5" stroke="#5BBA58" stroke-width="2.2"/>
<circle cx="418.0" cy="704.3" r="7.8" fill="#A6DCA3"/>
<text x="502.7" y="724.4" font-family="'Liberation Sans', Arial, sans-serif" font-size="61.4" fill="#000">(50)TH(1)FA(1)</text>
<path d="M348.5 779.2 H487.5" stroke="#9A70C8" stroke-width="2.2"/>
<path d="M418.0 771.8L425.8 786.2L410.2 786.2Z" fill="#CDB8E6"/>
<text x="502.7" y="799.3" font-family="'Liberation Sans', Arial, sans-serif" font-size="61.4" fill="#000">(50)TH(1)FA(2)</text>
<path d="M348.5 854.2 H487.5" stroke="#3593A2" stroke-width="2.2"/>
<path d="M410.2 847.2L425.8 847.2L418.0 861.6Z" fill="#1F7E8F"/>
<text x="502.7" y="874.3" font-family="'Liberation Sans', Arial, sans-serif" font-size="61.4" fill="#000">(50)TH</text>
<path d="M348.5 929.8 H487.5" stroke="#A6A6A6" stroke-width="2.2" stroke-dasharray="4.6 5.6"/>
<circle cx="418.0" cy="929.8" r="6.8" fill="#fff" stroke="#8C9180" stroke-width="2"/>
<text x="502.7" y="949.9" font-family="'Liberation Sans', Arial, sans-serif" font-size="61.4" fill="#000">(50)FA</text>
<path d="M348.5 1004.6 H487.5" stroke="#FF7483" stroke-width="2.2" stroke-dasharray="4.6 5.6"/>
<rect x="411.2" y="997.9" width="13.5" height="13.5" fill="#fff" stroke="#FF4E5C" stroke-width="2"/>
<text x="502.7" y="1024.7" font-family="'Liberation Sans', Arial, sans-serif" font-size="61.4" fill="#000">NT</text>
<g stroke="#000" stroke-width="5" fill="none">
<path d="M208 1576.2 V2606.1"/>
<path d="M205.5 2603.6 H2155.8"/>
<path d="M205.5 1578.7 H239"/>
<path d="M205.5 1676.3 H239"/>
<path d="M205.5 1774.0 H239"/>
<path d="M205.5 1871.6 H239"/>
<path d="M205.5 1969.2 H239"/>
<path d="M205.5 2066.8 H239"/>
<path d="M205.5 2164.5 H239"/>
<path d="M205.5 2262.1 H239"/>
<path d="M205.5 2359.7 H239"/>
<path d="M205.5 2457.4 H239"/>
<path d="M205.5 2555.0 H239"/>
<path d="M427.9 2603.6 V2633.5"/>
<path d="M741.6 2603.6 V2633.5"/>
<path d="M1055.3 2603.6 V2633.5"/>
<path d="M1369.0 2603.6 V2633.5"/>
<path d="M1682.7 2603.6 V2633.5"/>
<path d="M1996.4 2603.6 V2633.5"/>
<path d="M271.0 2603.6 V2618.6"/>
<path d="M584.8 2603.6 V2618.6"/>
<path d="M898.5 2603.6 V2618.6"/>
<path d="M1212.2 2603.6 V2618.6"/>
<path d="M1525.8 2603.6 V2618.6"/>
<path d="M1839.6 2603.6 V2618.6"/>
<path d="M2153.2 2603.6 V2618.6"/>
</g>
<g font-family="'Liberation Sans', Arial, sans-serif" font-size="66.5" fill="#000">
<text transform="translate(427.9 2706.7) scale(1 1.035)" text-anchor="middle">100</text>
<text transform="translate(741.6 2706.7) scale(1 1.035)" text-anchor="middle">200</text>
<text transform="translate(1055.3 2706.7) scale(1 1.035)" text-anchor="middle">300</text>
<text transform="translate(1369.0 2706.7) scale(1 1.035)" text-anchor="middle">400</text>
<text transform="translate(1682.7 2706.7) scale(1 1.035)" text-anchor="middle">500</text>
<text transform="translate(1996.4 2706.7) scale(1 1.035)" text-anchor="middle">600</text>
</g>
<text transform="translate(864.3 2814.2) scale(1 1.015)" font-family="'Liberation Sans', Arial, sans-serif" font-size="81.7" fill="#000">Temperature (°C)</text>
<text transform="translate(141.5 2295.5) rotate(-90) scale(1 1.025)" font-family="'Liberation Sans', Arial, sans-serif" font-size="82" fill="#000">DTG (1/°C)</text>
<text x="1076.8" y="2917" font-family="'Liberation Serif', 'Times New Roman', serif" font-size="76" fill="#000">(<tspan font-weight="bold">b</tspan><tspan dx="2">)</tspan></text>
<svg x="0" y="0" width="2255" height="2963" overflow="hidden"><defs><clipPath id="cb"><rect x="211" y="1500" width="1950" height="1101"/></clipPath></defs>
<g clip-path="url(#cb)">
<path d="M209.0 1690.0 L216.1 1690.4 L222.1 1690.7 L228.3 1692.5 L234.9 1692.1 L241.0 1694.3 L247.2 1695.6 L253.1 1696.8 L259.0 1699.7 L265.5 1700.7 L271.8 1703.5 L278.6 1704.3 L285.0 1705.5 L291.5 1707.4 L297.5 1709.3 L303.9 1708.5 L310.5 1709.3 L316.9 1710.3 L323.3 1710.8 L329.8 1709.7 L336.5 1708.7 L342.5 1709.3 L348.8 1706.3 L355.4 1706.8 L361.7 1704.1 L367.7 1702.1 L373.9 1700.0 L380.3 1698.1 L386.0 1697.1 L391.8 1693.6 L397.8 1692.3 L403.9 1690.4 L410.2 1688.0 L416.7 1686.8 L422.7 1684.5 L429.4 1683.4 L435.6 1682.9 L442.0 1683.2 L448.5 1681.9 L455.2 1681.0 L461.8 1681.0 L468.3 1680.2 L474.6 1679.4 L480.7 1680.0 L487.2 1679.3 L493.9 1677.8 L501.1 1677.8 L507.8 1677.1 L514.2 1677.2 L520.2 1676.6 L527.4 1675.4 L533.6 1676.9 L540.4 1675.0 L546.5 1675.7 L552.8 1676.5 L559.2 1675.4 L565.6 1676.5 L572.0 1676.0 L578.8 1678.1 L585.6 1679.2 L592.5 1679.8 L598.5 1681.4 L604.5 1681.1 L610.6 1683.0 L616.9 1683.7 L622.9 1684.6 L629.0 1685.2 L635.3 1687.0 L641.7 1688.1 L648.1 1688.0 L654.4 1689.3 L660.5 1688.9 L667.1 1691.4 L673.2 1692.3 L679.2 1694.1 L685.2 1694.8 L691.5 1694.8 L697.8 1696.6 L703.9 1699.1 L710.3 1700.0 L716.5 1703.6 L722.0 1705.5 L727.7 1708.1 L733.5 1710.7 L739.3 1715.0 L745.0 1716.2 L750.5 1718.9 L756.3 1721.5 L762.4 1724.6 L768.4 1724.9 L774.4 1727.6 L780.2 1729.8 L786.7 1732.8 L792.7 1735.1 L798.3 1737.9 L804.4 1739.9 L809.8 1743.5 L815.2 1747.3 L820.2 1752.7 L824.7 1757.0 L829.3 1759.6 L834.0 1764.5 L838.2 1769.0 L842.4 1773.7 L846.6 1779.1 L850.7 1784.2 L854.7 1789.5 L858.6 1794.8 L862.3 1800.2 L865.9 1805.8 L869.5 1811.5 L873.0 1817.3 L876.5 1823.4 L879.4 1828.8 L882.3 1834.5 L885.2 1840.3 L888.1 1846.4 L890.6 1852.0 L893.3 1858.0 L896.0 1864.5 L898.3 1870.2 L900.7 1876.1 L903.0 1882.1 L905.3 1888.1 L907.5 1894.2 L909.6 1900.1 L911.7 1906.0 L913.6 1911.7 L915.7 1918.1 L917.6 1924.1 L919.4 1930.3 L921.0 1936.8 L922.2 1942.9 L923.3 1949.7 L924.3 1956.2 L925.2 1962.6 L926.2 1969.2 L927.6 1975.9 L929.1 1981.8 L930.9 1988.2 L932.8 1994.5 L934.8 2000.9 L936.9 2007.3 L939.1 2013.9 L941.1 2019.7 L943.1 2025.7 L945.1 2031.9 L947.2 2038.4 L949.3 2044.8 L951.3 2051.4 L953.1 2057.3 L954.9 2063.5 L956.8 2069.8 L958.7 2076.2 L960.7 2082.5 L962.6 2088.8 L964.5 2094.9 L966.4 2100.7 L968.5 2107.1 L970.6 2112.9 L973.2 2119.5 L976.0 2126.1 L978.7 2131.5 L981.8 2136.9 L985.4 2142.2 L989.5 2147.5 L993.7 2152.4 L998.1 2155.8 L1003.3 2158.6 L1009.0 2163.0 L1014.6 2167.1 L1019.1 2171.7 L1023.6 2176.8 L1028.5 2180.9 L1033.0 2184.9 L1037.5 2189.7 L1042.0 2194.5 L1046.3 2198.0 L1050.4 2204.0 L1054.2 2209.0 L1058.0 2214.7 L1061.5 2220.5 L1064.8 2226.5 L1067.9 2232.7 L1070.8 2239.1 L1073.4 2244.6 L1076.0 2250.3 L1078.7 2256.1 L1081.4 2261.8 L1084.3 2268.2 L1087.0 2274.2 L1089.7 2280.5 L1092.5 2286.9 L1095.2 2293.3 L1097.9 2299.6 L1100.6 2305.5 L1103.1 2311.0 L1105.8 2316.6 L1108.9 2322.0 L1113.6 2328.1 L1118.6 2323.9 L1121.7 2317.5 L1124.5 2311.7 L1126.8 2306.2 L1129.0 2299.9 L1131.3 2293.4 L1133.3 2286.8 L1135.2 2280.7 L1136.9 2274.3 L1138.4 2268.3 L1139.6 2261.8 L1140.7 2255.3 L1141.9 2247.7 L1143.0 2241.2 L1144.1 2234.9 L1145.2 2228.6 L1146.2 2222.6 L1147.3 2216.2 L1148.4 2209.5 L1149.4 2203.6 L1150.4 2197.5 L1151.5 2191.2 L1152.5 2184.7 L1153.6 2178.2 L1154.7 2171.6 L1155.7 2165.0 L1156.7 2158.4 L1157.8 2151.8 L1158.8 2145.2 L1159.7 2138.7 L1160.6 2132.3 L1161.5 2126.0 L1162.3 2120.0 L1163.1 2113.1 L1163.8 2107.0 L1164.5 2101.0 L1165.1 2094.8 L1165.7 2088.7 L1166.3 2082.5 L1166.9 2076.3 L1167.5 2070.0 L1168.0 2063.8 L1168.6 2057.6 L1169.1 2051.4 L1169.7 2045.3 L1170.3 2039.2 L1170.9 2033.1 L1171.5 2027.2 L1172.3 2020.3 L1173.1 2013.6 L1173.9 2007.0 L1174.9 2000.6 L1175.9 1993.6 L1177.1 1987.0 L1178.3 1980.3 L1179.6 1973.7 L1181.0 1967.2 L1182.4 1960.8 L1183.8 1954.5 L1185.3 1948.3 L1186.7 1942.2 L1188.2 1936.2 L1189.8 1929.5 L1191.4 1923.0 L1193.0 1916.8 L1194.4 1910.9 L1195.9 1904.5 L1197.4 1897.7 L1198.9 1890.8 L1200.1 1884.7 L1201.4 1878.3 L1202.6 1871.8 L1203.9 1865.1 L1205.3 1858.7 L1206.8 1852.9 L1208.5 1846.7 L1210.3 1840.4 L1212.2 1834.4 L1214.2 1828.7 L1216.7 1822.4 L1219.2 1816.6 L1222.1 1810.9 L1225.0 1805.4 L1228.7 1799.8 L1233.5 1795.7 L1238.5 1792.1 L1244.6 1788.3 L1250.6 1786.2 L1256.9 1783.6 L1263.2 1783.2 L1269.9 1780.3 L1276.6 1778.8 L1282.8 1778.7 L1289.3 1778.4 L1295.6 1778.3 L1301.7 1777.0 L1308.1 1776.3 L1314.2 1776.0 L1320.7 1775.2 L1327.4 1775.1 L1334.3 1773.6 L1341.1 1774.8 L1347.8 1773.6 L1354.2 1771.9 L1360.3 1771.6 L1366.6 1771.2 L1373.7 1770.7 L1380.8 1769.8 L1387.3 1771.1 L1393.4 1771.1 L1399.9 1769.7 L1406.1 1769.4 L1412.7 1767.9 L1419.3 1767.0 L1425.4 1766.0 L1432.3 1764.1 L1440.0 1763.5 L1446.2 1760.6 L1452.6 1758.8 L1458.8 1759.4 L1465.5 1756.8 L1471.5 1754.6 L1477.7 1754.0 L1484.1 1751.3 L1490.6 1750.9 L1497.2 1750.3 L1503.8 1748.6 L1510.4 1746.7 L1516.9 1744.3 L1523.3 1743.2 L1529.5 1741.4 L1535.5 1741.6 L1541.5 1739.9 L1547.6 1739.3 L1553.7 1737.2 L1559.7 1735.9 L1565.7 1736.2 L1571.7 1735.6 L1577.6 1734.4 L1584.5 1733.2 L1591.4 1732.2 L1598.2 1731.1 L1605.1 1729.0 L1612.0 1728.8 L1618.9 1727.6 L1624.9 1726.1 L1630.9 1725.5 L1637.5 1725.3 L1643.8 1724.5 L1649.7 1724.8 L1656.4 1724.8 L1663.0 1723.0 L1669.9 1723.5 L1676.1 1723.2 L1682.8 1722.6 L1688.8 1721.0 L1695.4 1720.3 L1702.5 1720.0 L1708.8 1719.6 L1715.7 1719.3 L1723.0 1720.0 L1729.2 1720.4 L1736.0 1720.0 L1742.3 1719.1 L1748.8 1719.3 L1755.7 1719.4 L1761.7 1717.7 L1768.0 1718.9 L1774.3 1719.3 L1780.8 1718.9 L1787.4 1718.7 L1794.1 1718.0 L1800.9 1717.2 L1807.7 1718.4 L1814.5 1717.3 L1821.3 1718.2 L1828.1 1718.5 L1834.9 1717.1 L1841.7 1717.0 L1848.3 1718.1 L1854.9 1717.6 L1861.4 1716.2 L1867.7 1716.0 L1873.9 1716.0 L1879.9 1717.6 L1886.7 1717.2 L1893.2 1715.6 L1899.4 1717.0 L1906.0 1717.2 L1912.2 1716.4 L1919.3 1715.5 L1925.4 1715.8 L1932.7 1714.6 L1939.5 1714.2 L1946.0 1716.0 L1952.0 1715.1 L1958.8 1714.6 L1965.1 1715.2 L1971.8 1713.8 L1977.8 1714.5 L1984.0 1714.1 L1990.1 1712.5 L1996.5 1712.3 L1997.5 1712.8" fill="none" stroke="#FF922E" stroke-width="2.0" stroke-linejoin="round"/>
<rect x="311.0" y="1705.0" width="10.0" height="10.0" fill="#FFC998"/>
<rect x="415.0" y="1681.0" width="10.0" height="10.0" fill="#FFC998"/>
<rect x="461.0" y="1675.0" width="10.0" height="10.0" fill="#FFC998"/>
<rect x="635.0" y="1681.0" width="10.0" height="10.0" fill="#FFC998"/>
<rect x="746.4" y="1714.8" width="10.0" height="10.0" fill="#FFC998"/>
<rect x="853.6" y="1789.8" width="10.0" height="10.0" fill="#FFC998"/>
<rect x="967.6" y="2113.1" width="10.0" height="10.0" fill="#FFC998"/>
<rect x="987.9" y="2146.4" width="10.0" height="10.0" fill="#FFC998"/>
<rect x="1049.8" y="2204.8" width="10.0" height="10.0" fill="#FFC998"/>
<rect x="1104.5" y="2317.9" width="10.0" height="10.0" fill="#FFC998"/>
<rect x="1130.7" y="2273.8" width="10.0" height="10.0" fill="#FFC998"/>
<rect x="1170.4" y="1992.0" width="10.0" height="10.0" fill="#FFC998"/>
<rect x="1192.1" y="1894.2" width="10.0" height="10.0" fill="#FFC998"/>
<rect x="1232.0" y="1787.3" width="10.0" height="10.0" fill="#FFC998"/>
<rect x="1325.0" y="1770.0" width="10.0" height="10.0" fill="#FFC998"/>
<rect x="1435.0" y="1757.8" width="10.0" height="10.0" fill="#FFC998"/>
<rect x="1625.0" y="1721.6" width="10.0" height="10.0" fill="#FFC998"/>
<rect x="1795.0" y="1713.0" width="10.0" height="10.0" fill="#FFC998"/>
<rect x="1992.5" y="1707.8" width="10.0" height="10.0" fill="#FFC998"/>
<path d="M209.0 1690.0 L216.1 1689.9 L223.0 1690.4 L229.4 1691.7 L235.9 1691.8 L242.1 1693.3 L248.2 1694.2 L254.1 1697.7 L260.0 1698.2 L266.4 1700.4 L272.8 1702.6 L280.0 1704.9 L286.8 1705.0 L293.5 1707.1 L299.6 1707.1 L306.1 1707.7 L312.7 1708.0 L318.7 1706.9 L325.1 1707.6 L331.7 1706.7 L338.5 1705.6 L344.5 1706.6 L350.9 1704.2 L357.7 1703.5 L364.2 1702.4 L370.3 1700.1 L376.6 1697.4 L383.1 1695.4 L388.9 1693.3 L394.8 1691.7 L400.8 1688.1 L407.0 1687.2 L413.4 1684.8 L420.0 1683.5 L426.6 1683.6 L432.6 1682.2 L439.0 1681.7 L445.6 1681.6 L452.3 1681.4 L459.0 1680.0 L465.7 1680.0 L472.2 1679.4 L478.4 1679.1 L485.3 1679.2 L491.5 1678.3 L497.6 1678.1 L504.0 1677.3 L510.7 1677.5 L516.9 1676.1 L523.5 1675.9 L529.5 1676.0 L535.9 1674.5 L542.7 1675.3 L548.9 1676.4 L555.1 1676.5 L561.5 1675.3 L567.8 1675.8 L573.9 1677.1 L580.7 1677.0 L587.6 1678.3 L594.5 1679.0 L600.5 1681.2 L606.6 1682.5 L612.7 1683.7 L618.9 1683.1 L624.9 1685.3 L631.0 1686.1 L637.3 1686.1 L643.7 1688.8 L650.1 1690.0 L656.3 1689.5 L662.3 1692.1 L668.8 1692.0 L675.5 1693.4 L682.1 1695.4 L688.7 1695.8 L694.8 1695.3 L701.5 1697.4 L707.6 1699.6 L713.6 1701.6 L720.0 1704.2 L725.7 1707.2 L731.5 1711.0 L737.3 1712.3 L743.0 1716.2 L748.7 1718.5 L754.4 1719.9 L760.4 1722.8 L766.4 1725.5 L772.4 1727.2 L778.3 1728.1 L784.9 1732.4 L791.0 1734.3 L797.3 1737.7 L802.7 1738.6 L808.3 1742.2 L813.6 1745.4 L818.4 1750.9 L823.5 1754.4 L827.9 1758.3 L832.6 1763.6 L837.5 1769.8 L841.7 1774.2 L845.9 1777.8 L850.0 1783.4 L854.1 1788.6 L858.0 1793.9 L861.8 1799.4 L865.4 1805.0 L869.0 1810.6 L872.5 1816.5 L876.0 1822.5 L878.9 1827.9 L881.8 1833.5 L884.7 1839.3 L887.6 1845.3 L890.2 1851.1 L892.9 1857.1 L895.5 1863.5 L897.9 1869.2 L900.2 1875.1 L902.5 1881.1 L904.7 1887.1 L907.0 1893.2 L909.1 1899.1 L911.2 1905.0 L913.2 1910.8 L915.3 1917.2 L917.3 1923.2 L919.2 1929.2 L921.1 1935.8 L922.7 1942.1 L924.0 1948.1 L925.4 1954.7 L926.7 1961.2 L928.0 1967.7 L929.5 1974.2 L931.3 1981.0 L933.1 1987.7 L935.0 1994.4 L936.9 2001.1 L938.9 2007.7 L941.0 2014.4 L942.9 2020.1 L944.8 2025.9 L946.9 2031.7 L949.0 2037.3 L951.3 2043.1 L953.7 2049.1 L956.2 2055.1 L958.7 2061.1 L961.3 2067.0 L963.8 2072.7 L966.7 2078.9 L969.5 2084.6 L972.7 2090.7 L975.7 2096.0 L979.0 2101.4 L982.9 2106.6 L986.8 2110.7 L991.2 2117.4 L996.1 2121.4 L1001.2 2126.1 L1006.5 2129.1 L1011.2 2133.1 L1015.6 2138.8 L1020.2 2143.0 L1025.0 2147.3 L1029.1 2153.8 L1033.2 2157.6 L1037.2 2162.6 L1041.1 2167.7 L1044.8 2172.9 L1048.3 2178.1 L1051.9 2183.5 L1055.4 2189.5 L1058.6 2195.1 L1061.9 2201.5 L1064.7 2206.9 L1067.3 2212.5 L1070.1 2218.8 L1072.6 2224.6 L1075.2 2230.8 L1077.9 2237.1 L1080.5 2243.4 L1083.1 2249.7 L1085.6 2255.8 L1088.1 2261.6 L1090.8 2267.9 L1093.3 2273.5 L1096.0 2279.3 L1098.9 2285.1 L1102.0 2290.8 L1105.5 2296.3 L1109.7 2301.0 L1114.7 2304.7 L1120.4 2301.6 L1123.8 2296.7 L1126.3 2290.9 L1128.7 2284.6 L1131.0 2278.0 L1133.0 2271.6 L1134.7 2265.6 L1136.5 2259.1 L1138.3 2252.2 L1139.8 2246.0 L1141.2 2239.5 L1142.6 2232.6 L1143.8 2226.5 L1145.0 2219.9 L1146.1 2213.7 L1147.2 2207.2 L1148.2 2200.5 L1149.2 2194.5 L1150.1 2188.4 L1151.0 2182.2 L1151.9 2175.9 L1152.9 2169.5 L1153.8 2163.0 L1154.7 2156.6 L1155.6 2150.1 L1156.5 2143.7 L1157.3 2137.2 L1158.2 2130.9 L1159.1 2124.6 L1159.9 2118.5 L1160.7 2112.5 L1161.6 2105.7 L1162.5 2099.6 L1163.3 2093.4 L1164.1 2087.1 L1164.8 2081.0 L1165.6 2074.8 L1166.3 2068.7 L1167.0 2062.7 L1167.7 2056.6 L1168.4 2050.6 L1169.2 2043.7 L1170.0 2036.8 L1170.8 2029.9 L1171.6 2023.1 L1172.4 2016.3 L1173.3 2009.6 L1174.2 2002.8 L1175.2 1996.2 L1176.2 1989.5 L1177.2 1983.2 L1178.3 1976.8 L1179.4 1970.3 L1180.6 1963.8 L1181.8 1957.2 L1183.0 1950.7 L1184.2 1944.2 L1185.5 1937.7 L1186.7 1931.4 L1188.0 1925.2 L1189.2 1919.1 L1190.6 1912.3 L1191.9 1905.7 L1193.2 1899.6 L1194.6 1893.0 L1195.9 1887.0 L1197.3 1880.7 L1198.8 1873.7 L1200.4 1866.9 L1202.0 1860.5 L1203.8 1854.4 L1206.0 1848.0 L1208.3 1841.6 L1210.9 1835.6 L1213.6 1830.1 L1216.9 1824.2 L1220.2 1818.5 L1223.5 1812.9 L1226.9 1807.2 L1230.4 1802.0 L1234.7 1797.8 L1239.8 1792.7 L1245.9 1792.8 L1252.1 1791.0 L1258.1 1789.3 L1264.0 1788.2 L1270.0 1787.6 L1276.1 1785.0 L1283.0 1783.8 L1289.3 1784.0 L1295.8 1782.6 L1301.8 1781.6 L1308.3 1780.9 L1314.7 1780.0 L1321.3 1779.9 L1327.6 1780.6 L1333.7 1782.0 L1340.0 1782.7 L1346.2 1780.1 L1352.2 1778.7 L1358.5 1776.1 L1365.2 1775.1 L1371.2 1773.7 L1377.4 1774.1 L1384.0 1773.7 L1390.5 1775.5 L1396.6 1775.3 L1402.8 1774.4 L1408.8 1774.7 L1415.5 1774.9 L1421.7 1771.5 L1426.9 1769.4 L1432.9 1766.0 L1440.0 1764.0 L1446.5 1763.0 L1452.6 1760.3 L1458.6 1758.9 L1465.0 1757.6 L1470.9 1756.7 L1476.9 1753.7 L1483.2 1753.2 L1489.7 1751.3 L1496.2 1749.6 L1502.9 1747.6 L1509.5 1746.0 L1516.1 1743.9 L1522.7 1742.8 L1529.1 1741.5 L1535.3 1742.0 L1541.3 1740.1 L1548.3 1739.1 L1554.3 1738.4 L1560.5 1739.6 L1566.7 1739.3 L1572.9 1738.6 L1579.2 1737.5 L1585.5 1737.2 L1591.7 1737.2 L1598.0 1737.4 L1604.1 1736.6 L1610.3 1737.1 L1616.3 1736.5 L1623.2 1737.7 L1630.0 1737.4 L1636.5 1736.0 L1642.8 1734.7 L1649.2 1735.5 L1655.9 1732.9 L1662.0 1731.7 L1668.2 1729.2 L1674.2 1728.3 L1680.4 1726.7 L1686.3 1725.2 L1692.9 1723.1 L1699.3 1722.6 L1705.4 1720.6 L1712.1 1720.4 L1718.1 1719.5 L1724.4 1719.7 L1730.6 1718.5 L1737.2 1718.2 L1743.4 1718.6 L1749.9 1718.2 L1756.8 1718.8 L1762.8 1718.5 L1769.1 1718.9 L1775.5 1718.6 L1782.0 1718.6 L1788.6 1718.9 L1795.4 1717.7 L1802.2 1717.5 L1809.0 1718.9 L1815.9 1717.1 L1822.8 1718.3 L1829.7 1718.1 L1836.5 1716.7 L1843.3 1718.4 L1850.0 1718.5 L1856.6 1717.9 L1863.1 1718.1 L1869.5 1718.2 L1875.7 1716.7 L1881.7 1717.5 L1888.4 1717.4 L1894.9 1718.1 L1901.0 1717.9 L1907.6 1717.8 L1914.5 1717.1 L1920.8 1717.6 L1926.9 1717.0 L1934.1 1716.7 L1940.8 1715.5 L1947.2 1714.7 L1954.4 1714.6 L1961.0 1714.8 L1967.1 1713.8 L1973.6 1715.1 L1980.3 1714.0 L1986.9 1713.7 L1993.2 1713.3 L1997.5 1712.8" fill="none" stroke="#5BBA58" stroke-width="2.0" stroke-linejoin="round"/>
<circle cx="240.0" cy="1694.0" r="5.2" fill="#A6DCA3"/>
<circle cx="360.0" cy="1703.0" r="5.2" fill="#A6DCA3"/>
<circle cx="531.0" cy="1675.0" r="5.2" fill="#A6DCA3"/>
<circle cx="590.0" cy="1678.0" r="5.2" fill="#A6DCA3"/>
<circle cx="706.0" cy="1699.0" r="5.2" fill="#A6DCA3"/>
<circle cx="822.9" cy="1754.3" r="5.2" fill="#A6DCA3"/>
<circle cx="947.6" cy="2033.6" r="5.2" fill="#A6DCA3"/>
<circle cx="971.4" cy="2088.3" r="5.2" fill="#A6DCA3"/>
<circle cx="1040.5" cy="2166.9" r="5.2" fill="#A6DCA3"/>
<circle cx="1095.2" cy="2277.6" r="5.2" fill="#A6DCA3"/>
<circle cx="1110.7" cy="2301.4" r="5.2" fill="#A6DCA3"/>
<circle cx="1142.9" cy="2231.2" r="5.2" fill="#A6DCA3"/>
<circle cx="1176.2" cy="1989.5" r="5.2" fill="#A6DCA3"/>
<circle cx="1196.2" cy="1885.6" r="5.2" fill="#A6DCA3"/>
<circle cx="1236.0" cy="1795.9" r="5.2" fill="#A6DCA3"/>
<circle cx="1340.0" cy="1781.0" r="5.2" fill="#A6DCA3"/>
<circle cx="1490.0" cy="1752.0" r="5.2" fill="#A6DCA3"/>
<circle cx="1643.7" cy="1735.2" r="5.2" fill="#A6DCA3"/>
<circle cx="1820.0" cy="1718.0" r="5.2" fill="#A6DCA3"/>
<circle cx="1997.5" cy="1712.8" r="5.2" fill="#A6DCA3"/>
<path d="M209.0 1689.0 L216.1 1690.2 L223.0 1690.4 L229.4 1689.7 L235.9 1692.1 L242.1 1692.9 L248.2 1693.8 L254.1 1695.5 L260.0 1697.4 L266.4 1697.9 L272.8 1701.2 L280.0 1701.5 L286.8 1702.0 L293.5 1703.3 L299.6 1705.0 L306.1 1704.3 L312.7 1705.6 L318.7 1705.9 L325.1 1704.5 L331.7 1703.6 L338.5 1702.9 L344.5 1702.4 L350.9 1701.5 L357.7 1699.8 L364.2 1698.3 L370.3 1695.3 L376.6 1693.4 L383.1 1691.5 L388.9 1690.7 L394.8 1687.8 L400.8 1686.5 L407.0 1683.6 L413.4 1682.3 L420.0 1681.5 L426.6 1681.5 L432.6 1680.8 L439.0 1680.2 L445.6 1678.9 L452.3 1679.0 L459.0 1678.6 L465.7 1678.3 L472.2 1677.3 L478.4 1678.7 L485.3 1676.9 L491.5 1678.4 L497.6 1678.0 L504.0 1675.5 L510.7 1675.8 L516.9 1676.0 L523.5 1676.1 L530.4 1674.9 L536.8 1674.5 L543.7 1674.5 L549.9 1676.4 L556.2 1675.0 L562.6 1676.3 L568.9 1675.9 L574.9 1677.4 L581.7 1679.4 L588.6 1678.9 L594.5 1681.6 L600.5 1682.1 L606.6 1684.2 L612.7 1685.1 L618.9 1685.2 L624.9 1687.7 L631.0 1687.9 L637.3 1688.0 L643.7 1689.1 L650.1 1691.2 L656.3 1692.2 L662.3 1692.9 L668.8 1693.6 L675.5 1695.0 L682.1 1695.5 L688.7 1697.0 L694.8 1695.5 L701.5 1698.3 L707.6 1700.3 L713.6 1701.0 L720.0 1705.7 L725.7 1708.0 L731.5 1711.3 L737.3 1712.8 L743.0 1715.8 L748.7 1718.4 L754.4 1722.1 L760.4 1723.4 L766.4 1724.9 L772.4 1727.0 L778.3 1728.5 L784.9 1730.3 L791.0 1732.8 L797.3 1737.4 L802.7 1739.0 L808.3 1743.6 L813.6 1745.9 L818.4 1749.8 L823.5 1754.9 L827.9 1758.4 L832.6 1763.5 L837.5 1769.9 L841.7 1774.3 L845.9 1779.0 L850.0 1783.4 L854.1 1788.6 L858.0 1793.9 L861.8 1799.4 L865.4 1805.0 L869.0 1810.6 L872.5 1816.5 L876.0 1822.5 L878.9 1827.9 L881.8 1833.5 L884.7 1839.3 L887.6 1845.3 L890.2 1851.1 L892.9 1857.1 L895.5 1863.5 L897.8 1869.2 L900.1 1875.1 L902.4 1881.1 L904.6 1887.1 L906.8 1893.2 L908.9 1899.1 L911.0 1905.0 L913.0 1910.8 L915.2 1917.2 L917.3 1923.2 L919.2 1929.2 L921.3 1935.8 L923.2 1942.1 L924.8 1948.2 L926.3 1954.1 L928.0 1960.6 L929.6 1966.9 L931.3 1973.1 L933.0 1979.1 L934.9 1985.3 L936.7 1991.1 L938.8 1997.5 L940.9 2003.8 L943.1 2010.1 L945.2 2015.7 L947.6 2021.7 L950.1 2028.0 L952.4 2033.7 L954.8 2039.7 L957.4 2045.8 L960.0 2051.8 L962.6 2057.6 L965.3 2063.1 L968.4 2068.8 L972.3 2074.8 L976.7 2080.7 L981.1 2086.1 L985.6 2090.2 L990.8 2093.1 L996.2 2096.5 L1002.2 2096.0 L1009.0 2096.5 L1015.4 2095.7 L1021.3 2098.1 L1027.3 2099.9 L1033.7 2101.7 L1039.4 2103.9 L1045.0 2109.2 L1050.3 2111.6 L1054.7 2116.9 L1058.8 2121.8 L1062.6 2127.0 L1066.2 2132.8 L1069.4 2138.7 L1072.2 2144.4 L1074.7 2149.9 L1077.4 2156.1 L1080.4 2163.0 L1082.7 2168.8 L1084.9 2174.4 L1087.2 2180.6 L1089.2 2186.3 L1091.3 2192.2 L1093.5 2198.5 L1095.7 2204.9 L1097.9 2211.4 L1100.1 2218.0 L1102.4 2224.7 L1104.6 2231.3 L1106.8 2237.8 L1109.0 2244.2 L1111.1 2250.4 L1113.2 2256.4 L1115.2 2262.0 L1117.5 2268.2 L1119.9 2274.5 L1122.3 2280.6 L1125.2 2286.9 L1128.3 2293.1 L1131.8 2298.9 L1136.1 2303.8 L1141.2 2307.6 L1147.3 2311.9 L1151.9 2308.8 L1155.1 2302.0 L1158.3 2296.6 L1161.5 2290.9 L1164.1 2285.1 L1166.5 2278.6 L1168.5 2271.8 L1170.1 2265.3 L1171.5 2259.1 L1172.9 2252.6 L1174.1 2246.1 L1175.2 2239.8 L1176.4 2233.2 L1177.4 2227.2 L1178.4 2221.0 L1179.4 2214.6 L1180.5 2208.1 L1181.5 2201.4 L1182.6 2194.7 L1183.6 2187.9 L1184.6 2181.2 L1185.6 2174.5 L1186.6 2167.9 L1187.6 2161.3 L1188.6 2155.0 L1189.6 2148.8 L1190.5 2142.9 L1191.5 2136.3 L1192.5 2130.1 L1193.5 2123.9 L1194.5 2117.9 L1195.6 2111.1 L1196.7 2104.8 L1197.7 2098.7 L1198.8 2091.9 L1199.9 2085.4 L1201.0 2079.1 L1202.0 2072.8 L1203.1 2066.4 L1204.2 2059.9 L1205.3 2053.2 L1206.3 2047.2 L1207.2 2041.0 L1208.3 2034.4 L1209.4 2027.6 L1210.3 2021.6 L1211.2 2015.6 L1212.1 2009.5 L1213.1 2003.3 L1214.0 1997.1 L1214.9 1990.9 L1215.9 1984.7 L1216.8 1978.6 L1217.8 1972.5 L1218.7 1966.4 L1219.8 1959.6 L1220.8 1952.8 L1221.9 1946.3 L1223.0 1939.4 L1224.1 1932.9 L1225.1 1926.4 L1226.1 1920.1 L1227.1 1913.8 L1228.1 1907.7 L1229.1 1901.7 L1230.3 1894.8 L1231.5 1888.0 L1232.8 1881.5 L1234.1 1875.1 L1235.5 1869.0 L1237.0 1863.0 L1238.9 1856.3 L1241.0 1849.6 L1243.2 1843.2 L1245.5 1837.0 L1247.8 1831.1 L1250.2 1825.4 L1252.9 1819.3 L1255.4 1813.7 L1258.1 1808.1 L1260.9 1802.5 L1264.1 1797.2 L1268.2 1792.0 L1273.2 1789.0 L1279.4 1785.2 L1286.4 1784.4 L1292.9 1782.7 L1299.4 1780.8 L1305.6 1779.6 L1312.0 1778.5 L1318.2 1779.1 L1324.2 1777.6 L1331.1 1776.8 L1337.8 1778.6 L1343.8 1778.9 L1350.2 1777.7 L1356.8 1776.8 L1362.9 1776.6 L1369.2 1776.1 L1375.5 1776.3 L1381.6 1775.4 L1387.7 1775.3 L1394.2 1774.7 L1400.6 1774.7 L1406.8 1774.7 L1413.6 1773.6 L1420.2 1771.9 L1426.9 1771.0 L1433.2 1769.8 L1440.0 1767.7 L1445.9 1766.1 L1452.1 1763.8 L1458.0 1762.5 L1464.5 1762.2 L1470.3 1758.7 L1476.3 1757.8 L1482.6 1756.3 L1489.0 1755.0 L1495.6 1751.8 L1502.1 1750.1 L1508.7 1748.3 L1515.3 1747.0 L1521.8 1745.5 L1528.2 1745.2 L1534.4 1743.7 L1540.4 1742.6 L1546.3 1739.6 L1552.4 1738.7 L1558.4 1739.3 L1564.6 1738.9 L1570.7 1737.2 L1576.9 1736.7 L1583.1 1734.8 L1589.2 1735.0 L1595.4 1735.6 L1601.5 1734.7 L1607.5 1734.2 L1613.5 1733.9 L1620.4 1731.6 L1627.2 1730.6 L1633.8 1730.0 L1640.2 1730.0 L1646.5 1729.6 L1653.1 1729.1 L1659.1 1727.7 L1665.5 1726.4 L1671.7 1725.5 L1678.1 1723.7 L1684.1 1723.0 L1690.8 1720.9 L1697.1 1721.8 L1704.3 1719.9 L1710.9 1720.8 L1718.2 1719.6 L1724.5 1718.5 L1730.6 1717.7 L1737.3 1717.7 L1743.5 1718.2 L1750.0 1718.1 L1756.8 1716.5 L1762.8 1716.2 L1769.1 1717.0 L1775.4 1716.9 L1781.9 1716.2 L1788.5 1715.7 L1795.2 1716.3 L1801.9 1714.8 L1808.7 1715.2 L1815.6 1715.4 L1822.4 1716.3 L1829.2 1715.4 L1836.0 1715.8 L1842.7 1714.7 L1849.4 1714.0 L1856.0 1713.9 L1862.4 1715.3 L1868.8 1714.5 L1874.9 1713.5 L1880.9 1712.7 L1887.7 1713.6 L1894.1 1713.8 L1900.3 1713.0 L1906.8 1712.5 L1912.9 1713.2 L1919.3 1713.5 L1925.4 1711.7 L1932.7 1711.0 L1939.5 1711.5 L1946.0 1711.4 L1952.0 1711.7 L1958.8 1710.4 L1965.1 1711.4 L1971.8 1711.0 L1977.8 1710.2 L1984.0 1709.3 L1990.1 1710.7 L1996.5 1708.9 L1997.5 1709.3" fill="none" stroke="#9A70C8" stroke-width="2.0" stroke-linejoin="round"/>
<path d="M316.0 1699.5L321.8 1710.2L310.2 1710.2Z" fill="#CDB8E6"/>
<path d="M420.0 1676.5L425.8 1687.2L414.2 1687.2Z" fill="#CDB8E6"/>
<path d="M475.0 1671.5L480.8 1682.2L469.2 1682.2Z" fill="#CDB8E6"/>
<path d="M700.0 1692.5L705.8 1703.2L694.2 1703.2Z" fill="#CDB8E6"/>
<path d="M794.3 1729.7L800.0 1740.4L788.5 1740.4Z" fill="#CDB8E6"/>
<path d="M947.6 2016.2L953.4 2026.9L941.9 2026.9Z" fill="#CDB8E6"/>
<path d="M970.2 2066.2L976.0 2076.9L964.5 2076.9Z" fill="#CDB8E6"/>
<path d="M1053.6 2110.2L1059.3 2120.9L1047.8 2120.9Z" fill="#CDB8E6"/>
<path d="M1081.0 2159.0L1086.8 2169.7L1075.2 2169.7Z" fill="#CDB8E6"/>
<path d="M1122.6 2275.7L1128.3 2286.4L1116.8 2286.4Z" fill="#CDB8E6"/>
<path d="M1144.0 2304.3L1149.8 2315.0L1138.2 2315.0Z" fill="#CDB8E6"/>
<path d="M1171.4 2254.3L1177.2 2265.0L1165.7 2265.0Z" fill="#CDB8E6"/>
<path d="M1222.5 1937.2L1228.2 1947.9L1216.8 1947.9Z" fill="#CDB8E6"/>
<path d="M1238.8 1857.5L1244.5 1868.2L1233.0 1868.2Z" fill="#CDB8E6"/>
<path d="M1273.2 1783.2L1279.0 1793.9L1267.5 1793.9Z" fill="#CDB8E6"/>
<path d="M1324.8 1767.8L1330.5 1778.5L1319.0 1778.5Z" fill="#CDB8E6"/>
<path d="M1490.0 1752.5L1495.8 1763.2L1484.2 1763.2Z" fill="#CDB8E6"/>
<path d="M1640.2 1724.5L1646.0 1735.2L1634.5 1735.2Z" fill="#CDB8E6"/>
<path d="M1912.9 1707.3L1918.7 1718.0L1907.2 1718.0Z" fill="#CDB8E6"/>
<path d="M1997.5 1703.8L2003.2 1714.5L1991.8 1714.5Z" fill="#CDB8E6"/>
<path d="M209.0 1690.0 L212.9 1695.5 L217.9 1697.6 L223.9 1700.5 L229.6 1704.1 L235.8 1705.7 L242.1 1709.8 L248.1 1711.2 L253.8 1712.9 L259.4 1715.4 L265.9 1718.5 L272.3 1721.6 L278.0 1724.3 L283.8 1724.5 L289.5 1727.1 L295.4 1728.7 L301.3 1732.1 L307.2 1731.6 L314.0 1732.0 L320.0 1731.9 L326.9 1731.6 L332.8 1731.3 L338.8 1729.6 L345.0 1727.5 L351.3 1726.2 L357.7 1723.9 L364.1 1720.2 L369.9 1717.6 L375.8 1716.8 L381.6 1713.8 L387.7 1709.2 L393.1 1707.8 L398.7 1704.1 L404.3 1701.1 L409.9 1698.0 L415.4 1694.9 L421.5 1691.9 L427.4 1690.3 L433.6 1688.6 L439.5 1688.4 L446.3 1685.3 L453.1 1686.0 L460.0 1683.4 L466.3 1682.9 L473.0 1683.4 L479.7 1683.0 L486.1 1681.9 L492.8 1681.0 L499.3 1682.0 L505.3 1683.1 L512.0 1685.9 L517.8 1681.6 L524.1 1679.3 L530.3 1679.5 L536.4 1677.2 L543.4 1677.6 L549.9 1678.3 L556.5 1678.0 L563.3 1676.4 L569.9 1676.4 L576.8 1676.5 L583.6 1678.6 L590.5 1677.5 L597.5 1679.0 L603.5 1679.7 L609.6 1678.9 L615.8 1679.2 L621.9 1681.2 L628.0 1680.9 L634.4 1680.7 L640.9 1682.3 L647.4 1682.0 L653.8 1682.5 L659.9 1682.5 L666.6 1684.8 L673.2 1685.7 L679.8 1685.5 L686.6 1686.3 L693.5 1684.6 L700.0 1685.8 L706.0 1687.1 L712.5 1689.0 L719.4 1690.0 L725.6 1690.0 L732.1 1691.5 L738.8 1694.4 L744.7 1697.1 L750.4 1700.9 L756.4 1702.4 L761.6 1706.7 L767.0 1709.8 L772.4 1713.3 L777.8 1716.7 L783.2 1720.0 L788.6 1723.3 L793.8 1727.1 L799.1 1731.0 L804.4 1735.9 L809.8 1738.3 L815.2 1742.7 L820.6 1748.3 L825.2 1751.0 L829.8 1754.7 L834.3 1759.0 L838.7 1764.8 L843.0 1769.2 L847.2 1774.8 L851.1 1780.1 L854.7 1785.5 L858.4 1791.3 L861.5 1796.4 L864.6 1801.8 L867.6 1807.3 L870.6 1812.9 L873.6 1818.5 L876.5 1824.2 L879.3 1830.0 L882.0 1835.7 L884.6 1841.3 L887.2 1846.9 L890.0 1853.2 L892.7 1859.3 L895.2 1865.2 L897.6 1871.0 L899.8 1876.8 L901.8 1882.6 L904.1 1889.2 L906.2 1895.8 L908.2 1902.3 L910.1 1908.9 L912.0 1915.5 L913.8 1922.1 L915.7 1928.8 L917.3 1934.7 L918.9 1940.5 L920.5 1946.4 L922.1 1952.4 L923.6 1958.5 L925.2 1964.7 L926.7 1970.9 L928.1 1977.1 L929.6 1983.3 L931.0 1989.4 L932.4 1995.4 L933.9 2002.2 L935.4 2008.7 L936.8 2014.9 L938.3 2021.2 L939.8 2028.1 L941.1 2034.3 L942.4 2041.0 L943.6 2047.3 L944.8 2053.4 L946.1 2059.8 L947.7 2066.6 L949.4 2072.9 L951.2 2079.5 L953.1 2086.1 L954.8 2092.0 L956.6 2098.1 L958.5 2104.4 L960.5 2110.8 L962.5 2117.1 L964.5 2123.3 L966.5 2129.3 L968.5 2135.0 L970.7 2141.2 L972.9 2146.8 L975.5 2152.9 L978.3 2158.9 L981.7 2165.1 L984.9 2170.5 L988.7 2175.8 L992.8 2181.9 L997.2 2186.4 L1002.7 2189.5 L1008.9 2189.1 L1014.5 2191.0 L1019.9 2193.5 L1025.7 2197.2 L1031.4 2200.7 L1037.4 2203.4 L1042.9 2205.5 L1048.7 2209.7 L1053.0 2214.4 L1056.4 2219.4 L1059.8 2225.2 L1062.9 2231.0 L1065.6 2236.5 L1068.3 2242.3 L1071.0 2248.2 L1073.8 2254.3 L1076.5 2260.5 L1079.2 2266.5 L1081.8 2272.2 L1084.6 2278.7 L1087.0 2284.5 L1089.5 2290.5 L1092.0 2296.6 L1094.4 2302.7 L1096.9 2308.7 L1099.2 2314.5 L1101.9 2320.9 L1104.4 2326.7 L1107.1 2332.4 L1109.9 2337.7 L1113.1 2343.3 L1116.6 2348.5 L1120.7 2353.8 L1125.2 2359.2 L1130.6 2361.6 L1136.3 2357.9 L1140.4 2352.4 L1143.9 2346.7 L1147.1 2341.2 L1150.7 2335.8 L1153.2 2330.4 L1155.4 2324.0 L1157.2 2317.9 L1158.9 2312.0 L1160.6 2305.5 L1162.1 2299.3 L1163.5 2293.4 L1165.0 2286.9 L1166.6 2279.8 L1167.9 2273.4 L1169.3 2266.5 L1170.5 2260.6 L1171.7 2254.2 L1172.9 2248.0 L1174.1 2241.4 L1175.2 2235.5 L1176.4 2229.3 L1177.5 2222.9 L1178.7 2216.4 L1179.9 2209.7 L1181.1 2203.0 L1182.3 2196.3 L1183.5 2189.6 L1184.6 2183.0 L1185.8 2176.4 L1186.9 2170.0 L1188.0 2163.8 L1189.0 2157.8 L1190.1 2151.2 L1191.2 2145.0 L1192.3 2138.5 L1193.4 2131.6 L1194.5 2125.0 L1195.5 2118.9 L1196.4 2112.9 L1197.3 2106.6 L1198.1 2099.9 L1198.9 2093.6 L1199.8 2086.8 L1200.7 2080.0 L1201.6 2073.5 L1202.4 2067.0 L1203.2 2060.9 L1204.1 2054.4 L1205.0 2047.6 L1205.7 2041.5 L1206.6 2035.2 L1207.4 2028.8 L1208.2 2022.2 L1209.1 2015.6 L1210.0 2008.9 L1210.8 2002.2 L1211.7 1995.4 L1212.6 1988.7 L1213.5 1982.1 L1214.3 1975.5 L1215.2 1969.0 L1216.1 1962.7 L1216.9 1956.5 L1217.7 1950.5 L1218.7 1943.9 L1219.6 1937.5 L1220.6 1930.8 L1221.5 1924.8 L1222.5 1918.5 L1223.4 1912.4 L1224.4 1906.5 L1225.5 1899.6 L1226.7 1893.0 L1227.8 1886.6 L1228.9 1880.4 L1230.1 1873.6 L1231.4 1867.1 L1232.6 1860.9 L1233.9 1854.3 L1235.2 1848.0 L1236.6 1841.5 L1238.1 1834.5 L1239.8 1827.7 L1241.6 1821.3 L1243.6 1815.5 L1246.1 1809.2 L1248.8 1802.6 L1251.7 1796.5 L1255.1 1790.6 L1258.7 1785.1 L1262.5 1779.3 L1266.5 1774.7 L1271.4 1770.1 L1277.9 1768.5 L1284.2 1771.5 L1289.2 1766.6 L1293.8 1763.3 L1300.7 1762.5 L1307.6 1763.6 L1314.1 1762.6 L1320.2 1762.9 L1327.2 1763.0 L1334.0 1762.1 L1340.0 1762.1 L1346.5 1760.1 L1352.5 1759.2 L1359.1 1759.2 L1365.4 1760.5 L1371.9 1759.6 L1378.4 1759.1 L1384.5 1760.4 L1390.9 1760.1 L1397.4 1761.0 L1403.7 1759.3 L1409.8 1760.1 L1416.4 1760.6 L1422.7 1759.7 L1428.5 1758.2 L1434.8 1753.8 L1440.8 1752.3 L1446.7 1749.6 L1452.8 1747.4 L1459.0 1747.1 L1466.0 1744.5 L1472.0 1743.9 L1478.5 1741.3 L1484.7 1741.0 L1491.4 1738.8 L1497.5 1737.2 L1503.7 1737.2 L1510.2 1736.4 L1516.8 1733.4 L1523.6 1733.4 L1530.4 1732.4 L1537.3 1730.6 L1543.9 1730.1 L1550.7 1728.8 L1556.7 1728.3 L1562.9 1727.7 L1569.3 1727.9 L1575.7 1727.4 L1582.2 1725.8 L1588.7 1724.8 L1595.1 1724.9 L1601.4 1725.2 L1607.6 1723.7 L1614.5 1723.5 L1621.2 1722.9 L1627.4 1723.9 L1633.7 1723.1 L1639.9 1721.9 L1646.9 1722.1 L1653.5 1723.0 L1659.7 1723.7 L1666.7 1724.4 L1673.2 1723.6 L1679.4 1724.1 L1686.1 1725.5 L1692.9 1724.6 L1698.8 1722.8 L1705.3 1721.5 L1713.2 1722.2 L1720.2 1720.4 L1726.8 1720.7 L1733.4 1720.1 L1739.8 1720.1 L1745.9 1721.0 L1752.4 1721.2 L1759.2 1719.7 L1765.3 1719.2 L1771.6 1720.3 L1778.1 1719.1 L1784.7 1718.6 L1791.4 1720.5 L1798.2 1719.4 L1805.0 1720.2 L1811.9 1719.2 L1818.8 1720.2 L1825.6 1719.2 L1832.4 1718.4 L1839.2 1718.0 L1845.8 1719.1 L1852.3 1719.2 L1858.6 1719.6 L1864.8 1717.7 L1871.7 1718.7 L1878.3 1718.0 L1884.4 1718.0 L1891.4 1717.0 L1897.6 1717.0 L1903.7 1717.2 L1909.8 1717.8 L1915.9 1715.6 L1921.9 1716.1 L1929.0 1716.3 L1936.0 1716.2 L1942.8 1714.0 L1949.4 1713.4 L1955.8 1714.7 L1961.9 1714.3 L1968.7 1712.6 L1975.1 1711.2 L1981.8 1712.6 L1987.8 1710.9 L1994.2 1711.5 L1997.5 1710.4" fill="none" stroke="#3593A2" stroke-width="2.0" stroke-linejoin="round"/>
<path d="M211.9 1692.8L223.9 1692.8L217.9 1703.9Z" fill="#1F7E8F"/>
<path d="M307.0 1727.6L319.0 1727.6L313.0 1738.7Z" fill="#1F7E8F"/>
<path d="M417.2 1686.9L429.2 1686.9L423.2 1698.0Z" fill="#1F7E8F"/>
<path d="M506.0 1679.6L518.0 1679.6L512.0 1690.7Z" fill="#1F7E8F"/>
<path d="M566.0 1672.0L578.0 1672.0L572.0 1683.1Z" fill="#1F7E8F"/>
<path d="M667.2 1679.4L679.2 1679.4L673.2 1690.5Z" fill="#1F7E8F"/>
<path d="M787.1 1721.5L799.1 1721.5L793.1 1732.6Z" fill="#1F7E8F"/>
<path d="M841.9 1770.3L853.9 1770.3L847.9 1781.4Z" fill="#1F7E8F"/>
<path d="M887.1 1854.8L899.1 1854.8L893.1 1865.9Z" fill="#1F7E8F"/>
<path d="M967.8 2143.6L979.8 2143.6L973.8 2154.7Z" fill="#1F7E8F"/>
<path d="M989.2 2178.2L1001.2 2178.2L995.2 2189.3Z" fill="#1F7E8F"/>
<path d="M1048.8 2211.5L1060.8 2211.5L1054.8 2222.6Z" fill="#1F7E8F"/>
<path d="M1101.1 2327.0L1113.1 2327.0L1107.1 2338.1Z" fill="#1F7E8F"/>
<path d="M1125.5 2355.6L1137.5 2355.6L1131.5 2366.7Z" fill="#1F7E8F"/>
<path d="M1149.4 2318.6L1161.4 2318.6L1155.4 2329.7Z" fill="#1F7E8F"/>
<path d="M1164.2 2256.7L1176.2 2256.7L1170.2 2267.8Z" fill="#1F7E8F"/>
<path d="M1186.9 2129.4L1198.9 2129.4L1192.9 2140.5Z" fill="#1F7E8F"/>
<path d="M1214.7 1924.6L1226.7 1924.6L1220.7 1935.7Z" fill="#1F7E8F"/>
<path d="M1231.0 1834.0L1243.0 1834.0L1237.0 1845.1Z" fill="#1F7E8F"/>
<path d="M1265.4 1764.3L1277.4 1764.3L1271.4 1775.4Z" fill="#1F7E8F"/>
<path d="M1412.1 1754.3L1424.1 1754.3L1418.1 1765.4Z" fill="#1F7E8F"/>
<path d="M1532.4 1725.7L1544.4 1725.7L1538.4 1736.8Z" fill="#1F7E8F"/>
<path d="M1623.9 1717.7L1635.9 1717.7L1629.9 1728.8Z" fill="#1F7E8F"/>
<path d="M1717.0 1715.3L1729.0 1715.3L1723.0 1726.4Z" fill="#1F7E8F"/>
<path d="M1879.3 1712.6L1891.3 1712.6L1885.3 1723.7Z" fill="#1F7E8F"/>
<path d="M1991.5 1705.0L2003.5 1705.0L1997.5 1716.1Z" fill="#1F7E8F"/>
<path d="M209.0 1686.0 C210.1 1686.2 214.0 1687.2 217.9 1688.0 C221.8 1688.8 234.7 1690.9 240.0 1692.0 C245.3 1693.1 252.7 1695.5 260.0 1697.0 C267.3 1698.5 288.2 1703.8 298.2 1704.2 C308.2 1704.6 324.6 1703.2 340.0 1700.0 C355.4 1696.8 403.7 1681.7 421.7 1678.9 C439.7 1676.1 473.4 1678.2 484.2 1677.4 C495.0 1676.7 497.0 1673.0 508.0 1672.9 C519.0 1672.9 558.6 1675.9 572.0 1677.0 C585.4 1678.1 602.6 1679.9 615.2 1681.8 C627.8 1683.7 662.4 1690.1 673.0 1692.0 C683.6 1693.9 692.3 1694.7 700.0 1697.0 C707.7 1699.3 723.0 1705.7 734.8 1710.2 C746.6 1714.7 781.9 1727.8 794.3 1733.0 C806.6 1738.2 824.2 1744.8 833.6 1751.9 C843.0 1759.0 858.7 1772.9 869.3 1790.0 C879.9 1807.1 908.5 1865.0 918.1 1888.8 C927.7 1912.5 941.1 1962.8 946.4 1980.0 C951.7 1997.2 954.9 2012.9 960.7 2026.4 C966.5 2039.9 985.9 2080.4 992.9 2088.3 C999.9 2096.2 1009.9 2089.3 1016.7 2089.5 C1023.5 2089.7 1039.9 2086.7 1047.6 2089.5 C1055.3 2092.3 1070.9 2099.9 1078.6 2112.1 C1086.3 2124.3 1102.1 2169.4 1109.5 2187.1 C1116.9 2204.8 1130.9 2237.4 1138.1 2253.8 C1145.2 2270.2 1160.2 2313.3 1166.7 2318.1 C1173.2 2322.9 1185.5 2304.4 1190.5 2291.9 C1195.5 2279.4 1202.2 2244.8 1207.1 2218.1 C1212.0 2191.4 1225.0 2107.8 1229.5 2078.0 C1234.0 2048.2 1240.5 1996.0 1242.9 1980.0 C1245.3 1964.0 1244.9 1966.2 1248.7 1949.9 C1252.5 1933.6 1267.7 1866.8 1273.2 1849.4 C1278.8 1832.0 1286.5 1817.9 1293.1 1810.4 C1299.7 1802.9 1318.7 1792.5 1325.7 1789.6 C1332.7 1786.7 1343.0 1787.9 1349.3 1786.9 C1355.6 1785.9 1367.8 1782.3 1376.4 1781.4 C1385.0 1780.5 1408.9 1780.9 1418.1 1779.6 C1427.3 1778.2 1435.0 1775.5 1450.0 1770.6 C1465.0 1765.7 1523.7 1745.2 1538.4 1740.4 C1553.1 1735.6 1549.8 1734.6 1567.7 1731.8 C1585.6 1729.0 1662.2 1720.4 1681.6 1718.0 C1701.0 1715.6 1709.8 1713.5 1723.0 1712.8 C1736.2 1712.1 1755.4 1713.9 1786.9 1712.8 C1818.4 1711.7 1948.7 1705.7 1975.0 1704.2 C2001.3 1702.7 1994.7 1701.1 1997.5 1700.7" fill="none" stroke="#A6A6A6" stroke-width="1.6" stroke-dasharray="4.6 5.6" stroke-linejoin="round"/>
<rect x="293.8" y="1699.8" width="8.8" height="8.8" fill="#fff" stroke="#8C9180" stroke-width="1.7"/>
<rect x="417.3" y="1674.5" width="8.8" height="8.8" fill="#fff" stroke="#8C9180" stroke-width="1.7"/>
<rect x="479.8" y="1673.0" width="8.8" height="8.8" fill="#fff" stroke="#8C9180" stroke-width="1.7"/>
<rect x="503.6" y="1668.5" width="8.8" height="8.8" fill="#fff" stroke="#8C9180" stroke-width="1.7"/>
<rect x="610.8" y="1677.4" width="8.8" height="8.8" fill="#fff" stroke="#8C9180" stroke-width="1.7"/>
<rect x="730.4" y="1705.8" width="8.8" height="8.8" fill="#fff" stroke="#8C9180" stroke-width="1.7"/>
<rect x="829.2" y="1747.5" width="8.8" height="8.8" fill="#fff" stroke="#8C9180" stroke-width="1.7"/>
<rect x="864.9" y="1785.6" width="8.8" height="8.8" fill="#fff" stroke="#8C9180" stroke-width="1.7"/>
<rect x="913.7" y="1884.4" width="8.8" height="8.8" fill="#fff" stroke="#8C9180" stroke-width="1.7"/>
<rect x="956.3" y="2022.0" width="8.8" height="8.8" fill="#fff" stroke="#8C9180" stroke-width="1.7"/>
<rect x="988.5" y="2083.9" width="8.8" height="8.8" fill="#fff" stroke="#8C9180" stroke-width="1.7"/>
<rect x="1074.2" y="2107.7" width="8.8" height="8.8" fill="#fff" stroke="#8C9180" stroke-width="1.7"/>
<rect x="1162.3" y="2313.7" width="8.8" height="8.8" fill="#fff" stroke="#8C9180" stroke-width="1.7"/>
<rect x="1186.1" y="2287.5" width="8.8" height="8.8" fill="#fff" stroke="#8C9180" stroke-width="1.7"/>
<rect x="1244.3" y="1945.5" width="8.8" height="8.8" fill="#fff" stroke="#8C9180" stroke-width="1.7"/>
<rect x="1268.8" y="1845.0" width="8.8" height="8.8" fill="#fff" stroke="#8C9180" stroke-width="1.7"/>
<rect x="1321.3" y="1785.2" width="8.8" height="8.8" fill="#fff" stroke="#8C9180" stroke-width="1.7"/>
<rect x="1413.7" y="1775.2" width="8.8" height="8.8" fill="#fff" stroke="#8C9180" stroke-width="1.7"/>
<rect x="1534.0" y="1736.0" width="8.8" height="8.8" fill="#fff" stroke="#8C9180" stroke-width="1.7"/>
<rect x="1563.3" y="1727.4" width="8.8" height="8.8" fill="#fff" stroke="#8C9180" stroke-width="1.7"/>
<rect x="1677.2" y="1713.6" width="8.8" height="8.8" fill="#fff" stroke="#8C9180" stroke-width="1.7"/>
<rect x="1718.6" y="1708.4" width="8.8" height="8.8" fill="#fff" stroke="#8C9180" stroke-width="1.7"/>
<rect x="1782.5" y="1708.4" width="8.8" height="8.8" fill="#fff" stroke="#8C9180" stroke-width="1.7"/>
<rect x="1970.6" y="1699.8" width="8.8" height="8.8" fill="#fff" stroke="#8C9180" stroke-width="1.7"/>
<rect x="1993.1" y="1696.3" width="8.8" height="8.8" fill="#fff" stroke="#8C9180" stroke-width="1.7"/>
<path d="M209.0 1668.0 C209.3 1666.9 210.9 1659.0 211.5 1659.5 C212.1 1660.0 213.2 1667.3 214.0 1672.0 C214.8 1676.7 212.2 1692.2 217.9 1696.7 C223.7 1701.2 247.2 1705.0 260.0 1708.0 C272.8 1711.0 305.5 1720.2 320.5 1720.5 C335.5 1720.8 366.3 1714.3 380.0 1710.7 C393.7 1707.1 418.1 1696.0 430.0 1692.0 C441.9 1688.0 467.2 1680.0 475.3 1678.9 C483.4 1677.8 490.7 1684.0 494.6 1683.3 C498.5 1682.5 498.3 1674.2 506.5 1672.9 C514.7 1671.6 546.4 1672.8 560.0 1673.0 C573.6 1673.2 600.2 1673.6 615.2 1674.4 C630.2 1675.2 664.5 1678.2 680.0 1679.3 C695.5 1680.4 721.6 1679.6 739.5 1682.9 C757.4 1686.2 803.7 1694.0 822.9 1705.5 C842.1 1717.0 879.7 1755.6 893.1 1774.5 C906.5 1793.4 920.9 1828.1 930.0 1856.7 C939.1 1885.3 959.6 1976.4 965.7 2003.1 C971.8 2029.8 974.2 2049.7 978.6 2070.5 C983.0 2091.3 994.4 2146.2 1001.2 2169.3 C1008.0 2192.4 1025.1 2240.9 1033.3 2255.0 C1041.5 2269.1 1057.0 2276.3 1066.7 2282.4 C1076.4 2288.5 1103.0 2299.7 1110.7 2303.8 C1118.4 2307.9 1124.0 2310.0 1128.6 2315.1 C1133.2 2320.2 1143.1 2336.3 1147.6 2344.3 C1152.1 2352.3 1159.3 2367.5 1164.3 2378.8 C1169.3 2390.1 1182.9 2424.3 1187.5 2434.8 C1192.1 2445.3 1198.9 2458.7 1201.2 2462.5 C1203.5 2466.3 1204.9 2465.5 1206.2 2465.5 C1207.5 2465.5 1209.2 2466.3 1211.3 2462.5 C1213.3 2458.7 1220.2 2442.6 1222.6 2434.8 C1225.0 2427.0 1228.7 2409.1 1230.4 2400.2 C1232.1 2391.3 1234.7 2374.6 1236.3 2363.3 C1237.9 2352.0 1241.6 2320.2 1242.9 2309.8 C1244.2 2299.4 1244.6 2300.4 1246.4 2280.0 C1248.2 2259.6 1254.8 2172.3 1257.1 2146.7 C1259.4 2121.1 1263.2 2094.6 1265.0 2075.0 C1266.8 2055.4 1269.9 2008.8 1271.4 1990.0 C1272.9 1971.2 1275.2 1941.1 1277.0 1925.0 C1278.8 1908.9 1283.9 1876.0 1285.9 1861.2 C1287.9 1846.4 1291.3 1815.9 1293.1 1806.8 C1294.9 1797.7 1297.9 1793.5 1300.4 1788.7 C1302.9 1784.0 1309.8 1772.8 1313.0 1768.8 C1316.2 1764.8 1322.3 1758.6 1325.7 1757.0 C1329.1 1755.4 1335.0 1757.1 1340.2 1756.1 C1345.4 1755.1 1356.5 1750.5 1367.4 1748.8 C1378.3 1747.1 1418.1 1743.5 1427.2 1742.5 C1436.3 1741.5 1426.1 1744.1 1440.0 1740.4 C1453.9 1736.7 1514.5 1717.8 1538.4 1712.8 C1562.4 1707.8 1612.4 1701.8 1631.6 1700.7 C1650.8 1699.6 1680.8 1704.2 1692.0 1704.2 C1703.2 1704.2 1694.8 1701.8 1721.3 1700.7 C1747.8 1699.6 1869.8 1696.5 1904.3 1695.5 C1938.8 1694.5 1985.8 1693.4 1997.5 1693.1" fill="none" stroke="#FF7483" stroke-width="1.6" stroke-dasharray="4.6 5.6" stroke-linejoin="round"/>
<circle cx="217.9" cy="1696.7" r="4.9" fill="#fff" stroke="#FF4E5C" stroke-width="1.7"/>
<circle cx="320.5" cy="1720.5" r="4.9" fill="#fff" stroke="#FF4E5C" stroke-width="1.7"/>
<circle cx="380.0" cy="1710.7" r="4.9" fill="#fff" stroke="#FF4E5C" stroke-width="1.7"/>
<circle cx="475.3" cy="1678.9" r="4.9" fill="#fff" stroke="#FF4E5C" stroke-width="1.7"/>
<circle cx="494.6" cy="1683.3" r="4.9" fill="#fff" stroke="#FF4E5C" stroke-width="1.7"/>
<circle cx="506.5" cy="1672.9" r="4.9" fill="#fff" stroke="#FF4E5C" stroke-width="1.7"/>
<circle cx="615.2" cy="1674.4" r="4.9" fill="#fff" stroke="#FF4E5C" stroke-width="1.7"/>
<circle cx="739.5" cy="1682.9" r="4.9" fill="#fff" stroke="#FF4E5C" stroke-width="1.7"/>
<circle cx="822.9" cy="1705.5" r="4.9" fill="#fff" stroke="#FF4E5C" stroke-width="1.7"/>
<circle cx="893.1" cy="1774.5" r="4.9" fill="#fff" stroke="#FF4E5C" stroke-width="1.7"/>
<circle cx="930.0" cy="1856.7" r="4.9" fill="#fff" stroke="#FF4E5C" stroke-width="1.7"/>
<circle cx="965.7" cy="2003.1" r="4.9" fill="#fff" stroke="#FF4E5C" stroke-width="1.7"/>
<circle cx="1001.2" cy="2169.3" r="4.9" fill="#fff" stroke="#FF4E5C" stroke-width="1.7"/>
<circle cx="1033.3" cy="2255.0" r="4.9" fill="#fff" stroke="#FF4E5C" stroke-width="1.7"/>
<circle cx="1128.6" cy="2315.1" r="4.9" fill="#fff" stroke="#FF4E5C" stroke-width="1.7"/>
<circle cx="1187.5" cy="2434.8" r="4.9" fill="#fff" stroke="#FF4E5C" stroke-width="1.7"/>
<circle cx="1230.4" cy="2400.2" r="4.9" fill="#fff" stroke="#FF4E5C" stroke-width="1.7"/>
<circle cx="1294.0" cy="1805.0" r="4.9" fill="#fff" stroke="#FF4E5C" stroke-width="1.7"/>
<circle cx="1324.8" cy="1757.0" r="4.9" fill="#fff" stroke="#FF4E5C" stroke-width="1.7"/>
<circle cx="1538.4" cy="1712.8" r="4.9" fill="#fff" stroke="#FF4E5C" stroke-width="1.7"/>
<circle cx="1545.3" cy="1714.5" r="4.9" fill="#fff" stroke="#FF4E5C" stroke-width="1.7"/>
<circle cx="1631.6" cy="1700.7" r="4.9" fill="#fff" stroke="#FF4E5C" stroke-width="1.7"/>
<circle cx="1692.0" cy="1704.2" r="4.9" fill="#fff" stroke="#FF4E5C" stroke-width="1.7"/>
<circle cx="1721.3" cy="1700.7" r="4.9" fill="#fff" stroke="#FF4E5C" stroke-width="1.7"/>
<circle cx="1904.3" cy="1695.5" r="4.9" fill="#fff" stroke="#FF4E5C" stroke-width="1.7"/>
<circle cx="1916.4" cy="1699.0" r="4.9" fill="#fff" stroke="#FF4E5C" stroke-width="1.7"/>
<circle cx="1997.5" cy="1693.1" r="4.9" fill="#fff" stroke="#FF4E5C" stroke-width="1.7"/>
</g></svg>
<rect x="1446.4" y="2042.3" width="589.5" height="458.5" fill="#fff" stroke="#474747" stroke-width="3"/>
<path d="M1454.5 2084.6 H1592.5" stroke="#FF922E" stroke-width="2.2"/>
<rect x="1518.0" y="2079.6" width="10.0" height="10.0" fill="#FFC998"/>
<text x="1610.1" y="2104.7" font-family="'Liberation Sans', Arial, sans-serif" font-size="61.4" fill="#000">(50)TH(2)FA(1)</text>
<path d="M1454.5 2159.3 H1592.5" stroke="#5BBA58" stroke-width="2.2"/>
<circle cx="1523.0" cy="2159.3" r="5.5" fill="#A6DCA3"/>
<text x="1610.1" y="2179.4" font-family="'Liberation Sans', Arial, sans-serif" font-size="61.4" fill="#000">(50)TH(1)FA(1)</text>
<path d="M1454.5 2234.1 H1592.5" stroke="#9A70C8" stroke-width="2.2"/>
<path d="M1523.0 2228.9L1528.5 2239.0L1517.5 2239.0Z" fill="#CDB8E6"/>
<text x="1610.1" y="2254.2" font-family="'Liberation Sans', Arial, sans-serif" font-size="61.4" fill="#000">(50)TH(1)FA(2)</text>
<path d="M1454.5 2308.9 H1592.5" stroke="#3593A2" stroke-width="2.2"/>
<path d="M1517.5 2304.0L1528.5 2304.0L1523.0 2314.1Z" fill="#1F7E8F"/>
<text x="1610.1" y="2329.0" font-family="'Liberation Sans', Arial, sans-serif" font-size="61.4" fill="#000">(50)TH</text>
<path d="M1454.5 2384.4 H1592.5" stroke="#A6A6A6" stroke-width="2.2" stroke-dasharray="4.6 5.6"/>
<rect x="1519.0" y="2380.4" width="8.0" height="8.0" fill="#fff" stroke="#8C9180" stroke-width="2"/>
<text x="1610.1" y="2404.5" font-family="'Liberation Sans', Arial, sans-serif" font-size="61.4" fill="#000">(50)FA</text>
<path d="M1454.5 2459.8 H1592.5" stroke="#FF7483" stroke-width="2.2" stroke-dasharray="4.6 5.6"/>
<circle cx="1523.0" cy="2459.8" r="4.5" fill="#fff" stroke="#FF4E5C" stroke-width="2"/>
<text x="1610.1" y="2479.9" font-family="'Liberation Sans', Arial, sans-serif" font-size="61.4" fill="#000">NT</text>
</svg>
</body></html>
